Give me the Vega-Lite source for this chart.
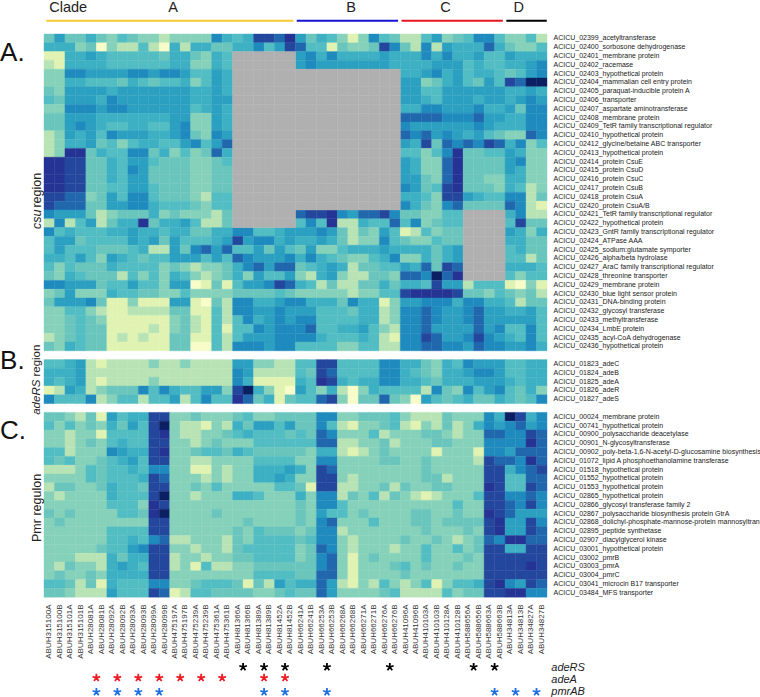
{"$schema":"https://vega.github.io/schema/vega-lite/v6.json","width":503,"height":686.4,"autosize":{"type":"none"},"padding":{"left":44,"top":7.6,"right":213,"bottom":3},"background":"white","config":{"view":{"stroke":null},"font":"Liberation Sans"},
"datasets":{"genes":[{"g":0,"name":"ACICU_02399_acetyltransferase"},{"g":1,"name":"ACICU_02400_sorbosone dehydrogenase"},{"g":2,"name":"ACICU_02401_membrane protein"},{"g":3,"name":"ACICU_02402_racemase"},{"g":4,"name":"ACICU_02403_hypothetical protein"},{"g":5,"name":"ACICU_02404_mammalian cell entry protein"},{"g":6,"name":"ACICU_02405_paraquat-inducible protein A"},{"g":7,"name":"ACICU_02406_transporter"},{"g":8,"name":"ACICU_02407_aspartate aminotransferase"},{"g":9,"name":"ACICU_02408_membrane protein"},{"g":10,"name":"ACICU_02409_TetR family transcriptional regulator"},{"g":11,"name":"ACICU_02410_hypothetical protein"},{"g":12,"name":"ACICU_02412_glycine/betaine ABC transporter"},{"g":13,"name":"ACICU_02413_hypothetical protein"},{"g":14,"name":"ACICU_02414_protein CsuE"},{"g":15,"name":"ACICU_02415_protein CsuD"},{"g":16,"name":"ACICU_02416_protein CsuC"},{"g":17,"name":"ACICU_02417_protein CsuB"},{"g":18,"name":"ACICU_02418_protein CsuA"},{"g":19,"name":"ACICU_02420_protein CsuA/B"},{"g":20,"name":"ACICU_02421_TetR family transcriptional regulator"},{"g":21,"name":"ACICU_02422_hypothetical protein"},{"g":22,"name":"ACICU_02423_GntR family transcriptional regulator"},{"g":23,"name":"ACICU_02424_ATPase AAA"},{"g":24,"name":"ACICU_02425_sodium:glutamate symporter"},{"g":25,"name":"ACICU_02426_alpha/beta hydrolase"},{"g":26,"name":"ACICU_02427_AraC family transcriptional regulator"},{"g":27,"name":"ACICU_02428_threonine transporter"},{"g":28,"name":"ACICU_02429_membrane protein"},{"g":29,"name":"ACICU_02430_blue light sensor protein"},{"g":30,"name":"ACICU_02431_DNA-binding protein"},{"g":31,"name":"ACICU_02432_glycosyl transferase"},{"g":32,"name":"ACICU_02433_methyltransferase"},{"g":33,"name":"ACICU_02434_LmbE protein"},{"g":34,"name":"ACICU_02435_acyl-CoA dehydrogenase"},{"g":35,"name":"ACICU_02436_hypothetical protein"},{"g":36,"name":"ACICU_01823_adeC"},{"g":37,"name":"ACICU_01824_adeB"},{"g":38,"name":"ACICU_01825_adeA"},{"g":39,"name":"ACICU_01826_adeR"},{"g":40,"name":"ACICU_01827_adeS"},{"g":41,"name":"ACICU_00024_membrane protein"},{"g":42,"name":"ACICU_00741_hypothetical protein"},{"g":43,"name":"ACICU_00900_polysaccharide deacetylase"},{"g":44,"name":"ACICU_00901_N-glycosyltransferase"},{"g":45,"name":"ACICU_00902_poly-beta-1,6-N-acetyl-D-glucosamine biosynthesis"},{"g":46,"name":"ACICU_01072_lipid A phosphoethanolamine transferase"},{"g":47,"name":"ACICU_01518_hypothetical protein"},{"g":48,"name":"ACICU_01552_hypothetical protein"},{"g":49,"name":"ACICU_01553_hypothetical protein"},{"g":50,"name":"ACICU_02865_hypothetical protein"},{"g":51,"name":"ACICU_02866_glycosyl transferase family 2"},{"g":52,"name":"ACICU_02867_polysaccharide biosynthesis protein GtrA"},{"g":53,"name":"ACICU_02868_dolichyl-phosphate-mannose-protein mannosyltransferase"},{"g":54,"name":"ACICU_02895_peptide synthetase"},{"g":55,"name":"ACICU_02907_diacylglycerol kinase"},{"g":56,"name":"ACICU_03001_hypothetical protein"},{"g":57,"name":"ACICU_03002_pmrB"},{"g":58,"name":"ACICU_03003_pmrA"},{"g":59,"name":"ACICU_03004_pmrC"},{"g":60,"name":"ACICU_03041_microcin B17 transporter"},{"g":61,"name":"ACICU_03484_MFS transporter"}],
"samples":[{"s":0,"sample":"ABUH315100A"},{"s":1,"sample":"ABUH315100B"},{"s":2,"sample":"ABUH315101A"},{"s":3,"sample":"ABUH315101B"},{"s":4,"sample":"ABUH28081A"},{"s":5,"sample":"ABUH28081B"},{"s":6,"sample":"ABUH28092A"},{"s":7,"sample":"ABUH28092B"},{"s":8,"sample":"ABUH28093A"},{"s":9,"sample":"ABUH28093B"},{"s":10,"sample":"ABUH28099A"},{"s":11,"sample":"ABUH28099B"},{"s":12,"sample":"ABUH475197A"},{"s":13,"sample":"ABUH475197B"},{"s":14,"sample":"ABUH475239A"},{"s":15,"sample":"ABUH475239B"},{"s":16,"sample":"ABUH475361A"},{"s":17,"sample":"ABUH475361B"},{"s":18,"sample":"ABUH81366A"},{"s":19,"sample":"ABUH81366B"},{"s":20,"sample":"ABUH81389A"},{"s":21,"sample":"ABUH81389B"},{"s":22,"sample":"ABUH81452A"},{"s":23,"sample":"ABUH81452B"},{"s":24,"sample":"ABUH66241A"},{"s":25,"sample":"ABUH66241B"},{"s":26,"sample":"ABUH66253A"},{"s":27,"sample":"ABUH66253B"},{"s":28,"sample":"ABUH66268A"},{"s":29,"sample":"ABUH66268B"},{"s":30,"sample":"ABUH66271A"},{"s":31,"sample":"ABUH66271B"},{"s":32,"sample":"ABUH66276A"},{"s":33,"sample":"ABUH66276B"},{"s":34,"sample":"ABUH41096A"},{"s":35,"sample":"ABUH41096B"},{"s":36,"sample":"ABUH410103A"},{"s":37,"sample":"ABUH410103B"},{"s":38,"sample":"ABUH410128A"},{"s":39,"sample":"ABUH410128B"},{"s":40,"sample":"ABUH588656A"},{"s":41,"sample":"ABUH588656B"},{"s":42,"sample":"ABUH588663A"},{"s":43,"sample":"ABUH588663B"},{"s":44,"sample":"ABUH34813A"},{"s":45,"sample":"ABUH34813B"},{"s":46,"sample":"ABUH34827A"},{"s":47,"sample":"ABUH34827B"}],
"missing":[{"g":2,"s":18},{"g":2,"s":19},{"g":2,"s":20},{"g":2,"s":21},{"g":2,"s":22},{"g":2,"s":23},{"g":3,"s":18},{"g":3,"s":19},{"g":3,"s":20},{"g":3,"s":21},{"g":3,"s":22},{"g":3,"s":23},{"g":20,"s":18},{"g":20,"s":19},{"g":20,"s":20},{"g":20,"s":21},{"g":20,"s":22},{"g":20,"s":23},{"g":21,"s":18},{"g":21,"s":19},{"g":21,"s":20},{"g":21,"s":21},{"g":21,"s":22},{"g":21,"s":23},
{"g":4,"s":18},{"g":4,"s":19},{"g":4,"s":20},{"g":4,"s":21},{"g":4,"s":22},{"g":4,"s":23},{"g":4,"s":24},{"g":4,"s":25},{"g":4,"s":26},{"g":4,"s":27},{"g":4,"s":28},{"g":4,"s":29},{"g":4,"s":30},{"g":4,"s":31},{"g":4,"s":32},{"g":4,"s":33},
{"g":5,"s":18},{"g":5,"s":19},{"g":5,"s":20},{"g":5,"s":21},{"g":5,"s":22},{"g":5,"s":23},{"g":5,"s":24},{"g":5,"s":25},{"g":5,"s":26},{"g":5,"s":27},{"g":5,"s":28},{"g":5,"s":29},{"g":5,"s":30},{"g":5,"s":31},{"g":5,"s":32},{"g":5,"s":33},
{"g":6,"s":18},{"g":6,"s":19},{"g":6,"s":20},{"g":6,"s":21},{"g":6,"s":22},{"g":6,"s":23},{"g":6,"s":24},{"g":6,"s":25},{"g":6,"s":26},{"g":6,"s":27},{"g":6,"s":28},{"g":6,"s":29},{"g":6,"s":30},{"g":6,"s":31},{"g":6,"s":32},{"g":6,"s":33},
{"g":7,"s":18},{"g":7,"s":19},{"g":7,"s":20},{"g":7,"s":21},{"g":7,"s":22},{"g":7,"s":23},{"g":7,"s":24},{"g":7,"s":25},{"g":7,"s":26},{"g":7,"s":27},{"g":7,"s":28},{"g":7,"s":29},{"g":7,"s":30},{"g":7,"s":31},{"g":7,"s":32},{"g":7,"s":33},
{"g":8,"s":18},{"g":8,"s":19},{"g":8,"s":20},{"g":8,"s":21},{"g":8,"s":22},{"g":8,"s":23},{"g":8,"s":24},{"g":8,"s":25},{"g":8,"s":26},{"g":8,"s":27},{"g":8,"s":28},{"g":8,"s":29},{"g":8,"s":30},{"g":8,"s":31},{"g":8,"s":32},{"g":8,"s":33},
{"g":9,"s":18},{"g":9,"s":19},{"g":9,"s":20},{"g":9,"s":21},{"g":9,"s":22},{"g":9,"s":23},{"g":9,"s":24},{"g":9,"s":25},{"g":9,"s":26},{"g":9,"s":27},{"g":9,"s":28},{"g":9,"s":29},{"g":9,"s":30},{"g":9,"s":31},{"g":9,"s":32},{"g":9,"s":33},
{"g":10,"s":18},{"g":10,"s":19},{"g":10,"s":20},{"g":10,"s":21},{"g":10,"s":22},{"g":10,"s":23},{"g":10,"s":24},{"g":10,"s":25},{"g":10,"s":26},{"g":10,"s":27},{"g":10,"s":28},{"g":10,"s":29},{"g":10,"s":30},{"g":10,"s":31},{"g":10,"s":32},{"g":10,"s":33},
{"g":11,"s":18},{"g":11,"s":19},{"g":11,"s":20},{"g":11,"s":21},{"g":11,"s":22},{"g":11,"s":23},{"g":11,"s":24},{"g":11,"s":25},{"g":11,"s":26},{"g":11,"s":27},{"g":11,"s":28},{"g":11,"s":29},{"g":11,"s":30},{"g":11,"s":31},{"g":11,"s":32},{"g":11,"s":33},
{"g":12,"s":18},{"g":12,"s":19},{"g":12,"s":20},{"g":12,"s":21},{"g":12,"s":22},{"g":12,"s":23},{"g":12,"s":24},{"g":12,"s":25},{"g":12,"s":26},{"g":12,"s":27},{"g":12,"s":28},{"g":12,"s":29},{"g":12,"s":30},{"g":12,"s":31},{"g":12,"s":32},{"g":12,"s":33},
{"g":13,"s":18},{"g":13,"s":19},{"g":13,"s":20},{"g":13,"s":21},{"g":13,"s":22},{"g":13,"s":23},{"g":13,"s":24},{"g":13,"s":25},{"g":13,"s":26},{"g":13,"s":27},{"g":13,"s":28},{"g":13,"s":29},{"g":13,"s":30},{"g":13,"s":31},{"g":13,"s":32},{"g":13,"s":33},
{"g":14,"s":18},{"g":14,"s":19},{"g":14,"s":20},{"g":14,"s":21},{"g":14,"s":22},{"g":14,"s":23},{"g":14,"s":24},{"g":14,"s":25},{"g":14,"s":26},{"g":14,"s":27},{"g":14,"s":28},{"g":14,"s":29},{"g":14,"s":30},{"g":14,"s":31},{"g":14,"s":32},{"g":14,"s":33},
{"g":15,"s":18},{"g":15,"s":19},{"g":15,"s":20},{"g":15,"s":21},{"g":15,"s":22},{"g":15,"s":23},{"g":15,"s":24},{"g":15,"s":25},{"g":15,"s":26},{"g":15,"s":27},{"g":15,"s":28},{"g":15,"s":29},{"g":15,"s":30},{"g":15,"s":31},{"g":15,"s":32},{"g":15,"s":33},
{"g":16,"s":18},{"g":16,"s":19},{"g":16,"s":20},{"g":16,"s":21},{"g":16,"s":22},{"g":16,"s":23},{"g":16,"s":24},{"g":16,"s":25},{"g":16,"s":26},{"g":16,"s":27},{"g":16,"s":28},{"g":16,"s":29},{"g":16,"s":30},{"g":16,"s":31},{"g":16,"s":32},{"g":16,"s":33},
{"g":17,"s":18},{"g":17,"s":19},{"g":17,"s":20},{"g":17,"s":21},{"g":17,"s":22},{"g":17,"s":23},{"g":17,"s":24},{"g":17,"s":25},{"g":17,"s":26},{"g":17,"s":27},{"g":17,"s":28},{"g":17,"s":29},{"g":17,"s":30},{"g":17,"s":31},{"g":17,"s":32},{"g":17,"s":33},
{"g":18,"s":18},{"g":18,"s":19},{"g":18,"s":20},{"g":18,"s":21},{"g":18,"s":22},{"g":18,"s":23},{"g":18,"s":24},{"g":18,"s":25},{"g":18,"s":26},{"g":18,"s":27},{"g":18,"s":28},{"g":18,"s":29},{"g":18,"s":30},{"g":18,"s":31},{"g":18,"s":32},{"g":18,"s":33},
{"g":19,"s":18},{"g":19,"s":19},{"g":19,"s":20},{"g":19,"s":21},{"g":19,"s":22},{"g":19,"s":23},{"g":19,"s":24},{"g":19,"s":25},{"g":19,"s":26},{"g":19,"s":27},{"g":19,"s":28},{"g":19,"s":29},{"g":19,"s":30},{"g":19,"s":31},{"g":19,"s":32},{"g":19,"s":33},
{"g":20,"s":40},{"g":20,"s":41},{"g":20,"s":42},{"g":20,"s":43},{"g":21,"s":40},{"g":21,"s":41},{"g":21,"s":42},{"g":21,"s":43},{"g":22,"s":40},{"g":22,"s":41},{"g":22,"s":42},{"g":22,"s":43},{"g":23,"s":40},{"g":23,"s":41},{"g":23,"s":42},{"g":23,"s":43},{"g":24,"s":40},{"g":24,"s":41},{"g":24,"s":42},{"g":24,"s":43},{"g":25,"s":40},{"g":25,"s":41},{"g":25,"s":42},{"g":25,"s":43},{"g":26,"s":40},{"g":26,"s":41},{"g":26,"s":42},{"g":26,"s":43},{"g":27,"s":40},{"g":27,"s":41},{"g":27,"s":42},{"g":27,"s":43}],
"cells":[
{"g":0,"s":0,"v":4},{"g":0,"s":1,"v":7},{"g":0,"s":2,"v":4},{"g":0,"s":3,"v":4},{"g":0,"s":4,"v":6},{"g":0,"s":5,"v":4},{"g":0,"s":6,"v":3},{"g":0,"s":7,"v":5},{"g":0,"s":8,"v":4},{"g":0,"s":9,"v":3},{"g":0,"s":10,"v":3},{"g":0,"s":11,"v":2},{"g":0,"s":12,"v":3},{"g":0,"s":13,"v":3},{"g":0,"s":14,"v":3},{"g":0,"s":15,"v":3},{"g":0,"s":16,"v":8},{"g":0,"s":17,"v":6},{"g":0,"s":18,"v":5},{"g":0,"s":19,"v":6},{"g":0,"s":20,"v":10},{"g":0,"s":21,"v":10},{"g":0,"s":22,"v":9},{"g":0,"s":23,"v":11},{"g":0,"s":24,"v":7},{"g":0,"s":25,"v":4},{"g":0,"s":26,"v":6},{"g":0,"s":27,"v":5},{"g":0,"s":28,"v":3},{"g":0,"s":29,"v":1},{"g":0,"s":30,"v":3},{"g":0,"s":31,"v":8},{"g":0,"s":32,"v":5},{"g":0,"s":33,"v":4},{"g":0,"s":34,"v":2},{"g":0,"s":35,"v":2},{"g":0,"s":36,"v":5},{"g":0,"s":37,"v":7},{"g":0,"s":38,"v":3},{"g":0,"s":39,"v":4},{"g":0,"s":40,"v":5},{"g":0,"s":41,"v":8},{"g":0,"s":42,"v":8},{"g":0,"s":43,"v":5},{"g":0,"s":44,"v":3},{"g":0,"s":45,"v":3},{"g":0,"s":46,"v":5},{"g":0,"s":47,"v":2},
{"g":1,"s":0,"v":6},{"g":1,"s":1,"v":6},{"g":1,"s":2,"v":6},{"g":1,"s":3,"v":3},{"g":1,"s":4,"v":4},{"g":1,"s":5,"v":0},{"g":1,"s":6,"v":3},{"g":1,"s":7,"v":2},{"g":1,"s":8,"v":2},{"g":1,"s":9,"v":5},{"g":1,"s":10,"v":2},{"g":1,"s":11,"v":0},{"g":1,"s":12,"v":6},{"g":1,"s":13,"v":2},{"g":1,"s":14,"v":6},{"g":1,"s":15,"v":6},{"g":1,"s":16,"v":4},{"g":1,"s":17,"v":4},{"g":1,"s":18,"v":6},{"g":1,"s":19,"v":6},{"g":1,"s":20,"v":8},{"g":1,"s":21,"v":5},{"g":1,"s":22,"v":7},{"g":1,"s":23,"v":10},{"g":1,"s":24,"v":9},{"g":1,"s":25,"v":5},{"g":1,"s":26,"v":5},{"g":1,"s":27,"v":1},{"g":1,"s":28,"v":4},{"g":1,"s":29,"v":3},{"g":1,"s":30,"v":3},{"g":1,"s":31,"v":4},{"g":1,"s":32,"v":10},{"g":1,"s":33,"v":8},{"g":1,"s":34,"v":4},{"g":1,"s":35,"v":2},{"g":1,"s":36,"v":8},{"g":1,"s":37,"v":2},{"g":1,"s":38,"v":7},{"g":1,"s":39,"v":6},{"g":1,"s":40,"v":6},{"g":1,"s":41,"v":6},{"g":1,"s":42,"v":9},{"g":1,"s":43,"v":6},{"g":1,"s":44,"v":4},{"g":1,"s":45,"v":3},{"g":1,"s":46,"v":3},{"g":1,"s":47,"v":5},
{"g":2,"s":0,"v":1},{"g":2,"s":1,"v":1},{"g":2,"s":2,"v":6},{"g":2,"s":3,"v":6},{"g":2,"s":4,"v":7},{"g":2,"s":5,"v":6},{"g":2,"s":6,"v":5},{"g":2,"s":7,"v":5},{"g":2,"s":8,"v":5},{"g":2,"s":9,"v":5},{"g":2,"s":10,"v":5},{"g":2,"s":11,"v":4},{"g":2,"s":12,"v":6},{"g":2,"s":13,"v":6},{"g":2,"s":14,"v":4},{"g":2,"s":15,"v":3},{"g":2,"s":16,"v":6},{"g":2,"s":17,"v":5},{"g":2,"s":24,"v":7},{"g":2,"s":25,"v":8},{"g":2,"s":26,"v":6},{"g":2,"s":27,"v":8},{"g":2,"s":28,"v":6},{"g":2,"s":29,"v":6},{"g":2,"s":30,"v":6},{"g":2,"s":31,"v":6},{"g":2,"s":32,"v":7},{"g":2,"s":33,"v":6},{"g":2,"s":34,"v":6},{"g":2,"s":35,"v":6},{"g":2,"s":36,"v":8},{"g":2,"s":37,"v":6},{"g":2,"s":38,"v":8},{"g":2,"s":39,"v":6},{"g":2,"s":40,"v":6},{"g":2,"s":41,"v":7},{"g":2,"s":42,"v":5},{"g":2,"s":43,"v":5},{"g":2,"s":44,"v":7},{"g":2,"s":45,"v":6},{"g":2,"s":46,"v":6},{"g":2,"s":47,"v":6},
{"g":3,"s":0,"v":2},{"g":3,"s":1,"v":1},{"g":3,"s":2,"v":6},{"g":3,"s":3,"v":6},{"g":3,"s":4,"v":6},{"g":3,"s":5,"v":6},{"g":3,"s":6,"v":5},{"g":3,"s":7,"v":5},{"g":3,"s":8,"v":5},{"g":3,"s":9,"v":5},{"g":3,"s":10,"v":5},{"g":3,"s":11,"v":5},{"g":3,"s":12,"v":6},{"g":3,"s":13,"v":6},{"g":3,"s":14,"v":3},{"g":3,"s":15,"v":3},{"g":3,"s":16,"v":6},{"g":3,"s":17,"v":5},{"g":3,"s":24,"v":7},{"g":3,"s":25,"v":8},{"g":3,"s":26,"v":7},{"g":3,"s":27,"v":7},{"g":3,"s":28,"v":7},{"g":3,"s":29,"v":7},{"g":3,"s":30,"v":7},{"g":3,"s":31,"v":7},{"g":3,"s":32,"v":7},{"g":3,"s":33,"v":6},{"g":3,"s":34,"v":6},{"g":3,"s":35,"v":6},{"g":3,"s":36,"v":6},{"g":3,"s":37,"v":7},{"g":3,"s":38,"v":7},{"g":3,"s":39,"v":7},{"g":3,"s":40,"v":5},{"g":3,"s":41,"v":6},{"g":3,"s":42,"v":5},{"g":3,"s":43,"v":5},{"g":3,"s":44,"v":6},{"g":3,"s":45,"v":6},{"g":3,"s":46,"v":7},{"g":3,"s":47,"v":8},
{"g":4,"s":0,"v":3},{"g":4,"s":1,"v":3},{"g":4,"s":2,"v":8},{"g":4,"s":3,"v":8},{"g":4,"s":4,"v":7},{"g":4,"s":5,"v":7},{"g":4,"s":6,"v":7},{"g":4,"s":7,"v":7},{"g":4,"s":8,"v":8},{"g":4,"s":9,"v":8},{"g":4,"s":10,"v":7},{"g":4,"s":11,"v":8},{"g":4,"s":12,"v":8},{"g":4,"s":13,"v":7},{"g":4,"s":14,"v":5},{"g":4,"s":15,"v":5},{"g":4,"s":16,"v":7},{"g":4,"s":17,"v":6},{"g":4,"s":34,"v":6},{"g":4,"s":35,"v":6},{"g":4,"s":36,"v":7},{"g":4,"s":37,"v":8},{"g":4,"s":38,"v":6},{"g":4,"s":39,"v":7},{"g":4,"s":40,"v":5},{"g":4,"s":41,"v":6},{"g":4,"s":42,"v":6},{"g":4,"s":43,"v":5},{"g":4,"s":44,"v":4},{"g":4,"s":45,"v":5},{"g":4,"s":46,"v":7},{"g":4,"s":47,"v":8},
{"g":5,"s":0,"v":3},{"g":5,"s":1,"v":3},{"g":5,"s":2,"v":6},{"g":5,"s":3,"v":6},{"g":5,"s":4,"v":5},{"g":5,"s":5,"v":5},{"g":5,"s":6,"v":5},{"g":5,"s":7,"v":4},{"g":5,"s":8,"v":6},{"g":5,"s":9,"v":5},{"g":5,"s":10,"v":4},{"g":5,"s":11,"v":5},{"g":5,"s":12,"v":5},{"g":5,"s":13,"v":6},{"g":5,"s":14,"v":3},{"g":5,"s":15,"v":5},{"g":5,"s":16,"v":7},{"g":5,"s":17,"v":6},{"g":5,"s":34,"v":7},{"g":5,"s":35,"v":7},{"g":5,"s":36,"v":3},{"g":5,"s":37,"v":4},{"g":5,"s":38,"v":6},{"g":5,"s":39,"v":7},{"g":5,"s":40,"v":5},{"g":5,"s":41,"v":4},{"g":5,"s":42,"v":7},{"g":5,"s":43,"v":5},{"g":5,"s":44,"v":10},{"g":5,"s":45,"v":9},{"g":5,"s":46,"v":12},{"g":5,"s":47,"v":12},
{"g":6,"s":0,"v":4},{"g":6,"s":1,"v":3},{"g":6,"s":2,"v":7},{"g":6,"s":3,"v":7},{"g":6,"s":4,"v":7},{"g":6,"s":5,"v":7},{"g":6,"s":6,"v":6},{"g":6,"s":7,"v":7},{"g":6,"s":8,"v":7},{"g":6,"s":9,"v":7},{"g":6,"s":10,"v":7},{"g":6,"s":11,"v":7},{"g":6,"s":12,"v":7},{"g":6,"s":13,"v":7},{"g":6,"s":14,"v":6},{"g":6,"s":15,"v":6},{"g":6,"s":16,"v":7},{"g":6,"s":17,"v":6},{"g":6,"s":34,"v":7},{"g":6,"s":35,"v":7},{"g":6,"s":36,"v":5},{"g":6,"s":37,"v":5},{"g":6,"s":38,"v":7},{"g":6,"s":39,"v":7},{"g":6,"s":40,"v":7},{"g":6,"s":41,"v":7},{"g":6,"s":42,"v":7},{"g":6,"s":43,"v":7},{"g":6,"s":44,"v":6},{"g":6,"s":45,"v":6},{"g":6,"s":46,"v":7},{"g":6,"s":47,"v":6},
{"g":7,"s":0,"v":5},{"g":7,"s":1,"v":4},{"g":7,"s":2,"v":7},{"g":7,"s":3,"v":7},{"g":7,"s":4,"v":7},{"g":7,"s":5,"v":6},{"g":7,"s":6,"v":8},{"g":7,"s":7,"v":7},{"g":7,"s":8,"v":7},{"g":7,"s":9,"v":7},{"g":7,"s":10,"v":7},{"g":7,"s":11,"v":7},{"g":7,"s":12,"v":7},{"g":7,"s":13,"v":7},{"g":7,"s":14,"v":6},{"g":7,"s":15,"v":6},{"g":7,"s":16,"v":7},{"g":7,"s":17,"v":7},{"g":7,"s":34,"v":7},{"g":7,"s":35,"v":7},{"g":7,"s":36,"v":6},{"g":7,"s":37,"v":5},{"g":7,"s":38,"v":7},{"g":7,"s":39,"v":7},{"g":7,"s":40,"v":7},{"g":7,"s":41,"v":6},{"g":7,"s":42,"v":7},{"g":7,"s":43,"v":7},{"g":7,"s":44,"v":6},{"g":7,"s":45,"v":7},{"g":7,"s":46,"v":8},{"g":7,"s":47,"v":7},
{"g":8,"s":0,"v":3},{"g":8,"s":1,"v":3},{"g":8,"s":2,"v":8},{"g":8,"s":3,"v":8},{"g":8,"s":4,"v":8},{"g":8,"s":5,"v":7},{"g":8,"s":6,"v":8},{"g":8,"s":7,"v":8},{"g":8,"s":8,"v":7},{"g":8,"s":9,"v":7},{"g":8,"s":10,"v":7},{"g":8,"s":11,"v":7},{"g":8,"s":12,"v":7},{"g":8,"s":13,"v":7},{"g":8,"s":14,"v":5},{"g":8,"s":15,"v":6},{"g":8,"s":16,"v":7},{"g":8,"s":17,"v":6},{"g":8,"s":34,"v":6},{"g":8,"s":35,"v":6},{"g":8,"s":36,"v":8},{"g":8,"s":37,"v":8},{"g":8,"s":38,"v":7},{"g":8,"s":39,"v":7},{"g":8,"s":40,"v":7},{"g":8,"s":41,"v":8},{"g":8,"s":42,"v":6},{"g":8,"s":43,"v":6},{"g":8,"s":44,"v":7},{"g":8,"s":45,"v":4},{"g":8,"s":46,"v":8},{"g":8,"s":47,"v":8},
{"g":9,"s":0,"v":4},{"g":9,"s":1,"v":4},{"g":9,"s":2,"v":7},{"g":9,"s":3,"v":7},{"g":9,"s":4,"v":7},{"g":9,"s":5,"v":6},{"g":9,"s":6,"v":6},{"g":9,"s":7,"v":6},{"g":9,"s":8,"v":6},{"g":9,"s":9,"v":6},{"g":9,"s":10,"v":6},{"g":9,"s":11,"v":6},{"g":9,"s":12,"v":7},{"g":9,"s":13,"v":7},{"g":9,"s":14,"v":3},{"g":9,"s":15,"v":3},{"g":9,"s":16,"v":7},{"g":9,"s":17,"v":6},{"g":9,"s":34,"v":9},{"g":9,"s":35,"v":9},{"g":9,"s":36,"v":9},{"g":9,"s":37,"v":9},{"g":9,"s":38,"v":8},{"g":9,"s":39,"v":8},{"g":9,"s":40,"v":8},{"g":9,"s":41,"v":9},{"g":9,"s":42,"v":7},{"g":9,"s":43,"v":7},{"g":9,"s":44,"v":6},{"g":9,"s":45,"v":6},{"g":9,"s":46,"v":8},{"g":9,"s":47,"v":8},
{"g":10,"s":0,"v":4},{"g":10,"s":1,"v":4},{"g":10,"s":2,"v":7},{"g":10,"s":3,"v":8},{"g":10,"s":4,"v":7},{"g":10,"s":5,"v":6},{"g":10,"s":6,"v":5},{"g":10,"s":7,"v":5},{"g":10,"s":8,"v":6},{"g":10,"s":9,"v":6},{"g":10,"s":10,"v":5},{"g":10,"s":11,"v":5},{"g":10,"s":12,"v":7},{"g":10,"s":13,"v":8},{"g":10,"s":14,"v":3},{"g":10,"s":15,"v":3},{"g":10,"s":16,"v":7},{"g":10,"s":17,"v":6},{"g":10,"s":34,"v":8},{"g":10,"s":35,"v":7},{"g":10,"s":36,"v":7},{"g":10,"s":37,"v":7},{"g":10,"s":38,"v":7},{"g":10,"s":39,"v":7},{"g":10,"s":40,"v":7},{"g":10,"s":41,"v":8},{"g":10,"s":42,"v":7},{"g":10,"s":43,"v":6},{"g":10,"s":44,"v":6},{"g":10,"s":45,"v":6},{"g":10,"s":46,"v":8},{"g":10,"s":47,"v":8},
{"g":11,"s":0,"v":2},{"g":11,"s":1,"v":3},{"g":11,"s":2,"v":7},{"g":11,"s":3,"v":6},{"g":11,"s":4,"v":7},{"g":11,"s":5,"v":5},{"g":11,"s":6,"v":8},{"g":11,"s":7,"v":7},{"g":11,"s":8,"v":7},{"g":11,"s":9,"v":7},{"g":11,"s":10,"v":6},{"g":11,"s":11,"v":6},{"g":11,"s":12,"v":7},{"g":11,"s":13,"v":8},{"g":11,"s":14,"v":4},{"g":11,"s":15,"v":3},{"g":11,"s":16,"v":8},{"g":11,"s":17,"v":7},{"g":11,"s":34,"v":9},{"g":11,"s":35,"v":8},{"g":11,"s":36,"v":9},{"g":11,"s":37,"v":7},{"g":11,"s":38,"v":8},{"g":11,"s":39,"v":7},{"g":11,"s":40,"v":6},{"g":11,"s":41,"v":7},{"g":11,"s":42,"v":5},{"g":11,"s":43,"v":4},{"g":11,"s":44,"v":3},{"g":11,"s":45,"v":3},{"g":11,"s":46,"v":9},{"g":11,"s":47,"v":8},
{"g":12,"s":0,"v":2},{"g":12,"s":1,"v":3},{"g":12,"s":2,"v":6},{"g":12,"s":3,"v":6},{"g":12,"s":4,"v":7},{"g":12,"s":5,"v":4},{"g":12,"s":6,"v":5},{"g":12,"s":7,"v":3},{"g":12,"s":8,"v":5},{"g":12,"s":9,"v":6},{"g":12,"s":10,"v":6},{"g":12,"s":11,"v":5},{"g":12,"s":12,"v":5},{"g":12,"s":13,"v":7},{"g":12,"s":14,"v":8},{"g":12,"s":15,"v":5},{"g":12,"s":16,"v":7},{"g":12,"s":17,"v":9},{"g":12,"s":34,"v":7},{"g":12,"s":35,"v":6},{"g":12,"s":36,"v":10},{"g":12,"s":37,"v":4},{"g":12,"s":38,"v":9},{"g":12,"s":39,"v":8},{"g":12,"s":40,"v":9},{"g":12,"s":41,"v":8},{"g":12,"s":42,"v":10},{"g":12,"s":43,"v":9},{"g":12,"s":44,"v":6},{"g":12,"s":45,"v":8},{"g":12,"s":46,"v":3},{"g":12,"s":47,"v":5},
{"g":13,"s":0,"v":2},{"g":13,"s":1,"v":3},{"g":13,"s":2,"v":11},{"g":13,"s":3,"v":11},{"g":13,"s":4,"v":4},{"g":13,"s":5,"v":6},{"g":13,"s":6,"v":5},{"g":13,"s":7,"v":5},{"g":13,"s":8,"v":8},{"g":13,"s":9,"v":8},{"g":13,"s":10,"v":4},{"g":13,"s":11,"v":6},{"g":13,"s":12,"v":3},{"g":13,"s":13,"v":5},{"g":13,"s":14,"v":3},{"g":13,"s":15,"v":4},{"g":13,"s":16,"v":9},{"g":13,"s":17,"v":6},{"g":13,"s":34,"v":5},{"g":13,"s":35,"v":5},{"g":13,"s":36,"v":3},{"g":13,"s":37,"v":5},{"g":13,"s":38,"v":8},{"g":13,"s":39,"v":11},{"g":13,"s":40,"v":4},{"g":13,"s":41,"v":4},{"g":13,"s":42,"v":5},{"g":13,"s":43,"v":5},{"g":13,"s":44,"v":7},{"g":13,"s":45,"v":6},{"g":13,"s":46,"v":3},{"g":13,"s":47,"v":3},
{"g":14,"s":0,"v":11},{"g":14,"s":1,"v":11},{"g":14,"s":2,"v":10},{"g":14,"s":3,"v":10},{"g":14,"s":4,"v":4},{"g":14,"s":5,"v":4},{"g":14,"s":6,"v":6},{"g":14,"s":7,"v":5},{"g":14,"s":8,"v":7},{"g":14,"s":9,"v":7},{"g":14,"s":10,"v":5},{"g":14,"s":11,"v":4},{"g":14,"s":12,"v":4},{"g":14,"s":13,"v":4},{"g":14,"s":14,"v":3},{"g":14,"s":15,"v":3},{"g":14,"s":16,"v":4},{"g":14,"s":17,"v":5},{"g":14,"s":34,"v":7},{"g":14,"s":35,"v":6},{"g":14,"s":36,"v":3},{"g":14,"s":37,"v":3},{"g":14,"s":38,"v":9},{"g":14,"s":39,"v":11},{"g":14,"s":40,"v":4},{"g":14,"s":41,"v":4},{"g":14,"s":42,"v":4},{"g":14,"s":43,"v":4},{"g":14,"s":44,"v":7},{"g":14,"s":45,"v":8},{"g":14,"s":46,"v":3},{"g":14,"s":47,"v":3},
{"g":15,"s":0,"v":11},{"g":15,"s":1,"v":11},{"g":15,"s":2,"v":10},{"g":15,"s":3,"v":10},{"g":15,"s":4,"v":4},{"g":15,"s":5,"v":4},{"g":15,"s":6,"v":6},{"g":15,"s":7,"v":5},{"g":15,"s":8,"v":8},{"g":15,"s":9,"v":7},{"g":15,"s":10,"v":4},{"g":15,"s":11,"v":4},{"g":15,"s":12,"v":4},{"g":15,"s":13,"v":4},{"g":15,"s":14,"v":3},{"g":15,"s":15,"v":3},{"g":15,"s":16,"v":4},{"g":15,"s":17,"v":4},{"g":15,"s":34,"v":7},{"g":15,"s":35,"v":6},{"g":15,"s":36,"v":3},{"g":15,"s":37,"v":3},{"g":15,"s":38,"v":9},{"g":15,"s":39,"v":11},{"g":15,"s":40,"v":4},{"g":15,"s":41,"v":4},{"g":15,"s":42,"v":4},{"g":15,"s":43,"v":4},{"g":15,"s":44,"v":7},{"g":15,"s":45,"v":6},{"g":15,"s":46,"v":3},{"g":15,"s":47,"v":3},
{"g":16,"s":0,"v":11},{"g":16,"s":1,"v":11},{"g":16,"s":2,"v":10},{"g":16,"s":3,"v":10},{"g":16,"s":4,"v":4},{"g":16,"s":5,"v":4},{"g":16,"s":6,"v":6},{"g":16,"s":7,"v":5},{"g":16,"s":8,"v":7},{"g":16,"s":9,"v":7},{"g":16,"s":10,"v":4},{"g":16,"s":11,"v":4},{"g":16,"s":12,"v":4},{"g":16,"s":13,"v":4},{"g":16,"s":14,"v":3},{"g":16,"s":15,"v":3},{"g":16,"s":16,"v":4},{"g":16,"s":17,"v":4},{"g":16,"s":34,"v":7},{"g":16,"s":35,"v":7},{"g":16,"s":36,"v":4},{"g":16,"s":37,"v":3},{"g":16,"s":38,"v":9},{"g":16,"s":39,"v":11},{"g":16,"s":40,"v":4},{"g":16,"s":41,"v":4},{"g":16,"s":42,"v":3},{"g":16,"s":43,"v":3},{"g":16,"s":44,"v":6},{"g":16,"s":45,"v":6},{"g":16,"s":46,"v":3},{"g":16,"s":47,"v":3},
{"g":17,"s":0,"v":11},{"g":17,"s":1,"v":11},{"g":17,"s":2,"v":10},{"g":17,"s":3,"v":10},{"g":17,"s":4,"v":4},{"g":17,"s":5,"v":4},{"g":17,"s":6,"v":5},{"g":17,"s":7,"v":5},{"g":17,"s":8,"v":7},{"g":17,"s":9,"v":7},{"g":17,"s":10,"v":5},{"g":17,"s":11,"v":4},{"g":17,"s":12,"v":4},{"g":17,"s":13,"v":4},{"g":17,"s":14,"v":3},{"g":17,"s":15,"v":3},{"g":17,"s":16,"v":4},{"g":17,"s":17,"v":4},{"g":17,"s":34,"v":8},{"g":17,"s":35,"v":7},{"g":17,"s":36,"v":4},{"g":17,"s":37,"v":5},{"g":17,"s":38,"v":10},{"g":17,"s":39,"v":11},{"g":17,"s":40,"v":4},{"g":17,"s":41,"v":4},{"g":17,"s":42,"v":4},{"g":17,"s":43,"v":3},{"g":17,"s":44,"v":6},{"g":17,"s":45,"v":5},{"g":17,"s":46,"v":2},{"g":17,"s":47,"v":3},
{"g":18,"s":0,"v":10},{"g":18,"s":1,"v":10},{"g":18,"s":2,"v":9},{"g":18,"s":3,"v":9},{"g":18,"s":4,"v":3},{"g":18,"s":5,"v":4},{"g":18,"s":6,"v":7},{"g":18,"s":7,"v":5},{"g":18,"s":8,"v":8},{"g":18,"s":9,"v":8},{"g":18,"s":10,"v":5},{"g":18,"s":11,"v":4},{"g":18,"s":12,"v":4},{"g":18,"s":13,"v":4},{"g":18,"s":14,"v":3},{"g":18,"s":15,"v":2},{"g":18,"s":16,"v":5},{"g":18,"s":17,"v":5},{"g":18,"s":34,"v":6},{"g":18,"s":35,"v":6},{"g":18,"s":36,"v":5},{"g":18,"s":37,"v":3},{"g":18,"s":38,"v":10},{"g":18,"s":39,"v":10},{"g":18,"s":40,"v":7},{"g":18,"s":41,"v":6},{"g":18,"s":42,"v":5},{"g":18,"s":43,"v":5},{"g":18,"s":44,"v":8},{"g":18,"s":45,"v":8},{"g":18,"s":46,"v":2},{"g":18,"s":47,"v":4},
{"g":19,"s":0,"v":10},{"g":19,"s":1,"v":9},{"g":19,"s":2,"v":9},{"g":19,"s":3,"v":9},{"g":19,"s":4,"v":4},{"g":19,"s":5,"v":4},{"g":19,"s":6,"v":7},{"g":19,"s":7,"v":7},{"g":19,"s":8,"v":8},{"g":19,"s":9,"v":8},{"g":19,"s":10,"v":6},{"g":19,"s":11,"v":5},{"g":19,"s":12,"v":5},{"g":19,"s":13,"v":5},{"g":19,"s":14,"v":4},{"g":19,"s":15,"v":3},{"g":19,"s":16,"v":5},{"g":19,"s":17,"v":5},{"g":19,"s":34,"v":8},{"g":19,"s":35,"v":6},{"g":19,"s":36,"v":4},{"g":19,"s":37,"v":3},{"g":19,"s":38,"v":8},{"g":19,"s":39,"v":9},{"g":19,"s":40,"v":4},{"g":19,"s":41,"v":4},{"g":19,"s":42,"v":4},{"g":19,"s":43,"v":4},{"g":19,"s":44,"v":9},{"g":19,"s":45,"v":8},{"g":19,"s":46,"v":2},{"g":19,"s":47,"v":1},
{"g":20,"s":0,"v":8},{"g":20,"s":1,"v":7},{"g":20,"s":2,"v":7},{"g":20,"s":3,"v":7},{"g":20,"s":4,"v":4},{"g":20,"s":5,"v":2},{"g":20,"s":6,"v":3},{"g":20,"s":7,"v":4},{"g":20,"s":8,"v":4},{"g":20,"s":9,"v":4},{"g":20,"s":10,"v":6},{"g":20,"s":11,"v":3},{"g":20,"s":12,"v":4},{"g":20,"s":13,"v":3},{"g":20,"s":14,"v":3},{"g":20,"s":15,"v":3},{"g":20,"s":16,"v":2},{"g":20,"s":17,"v":4},{"g":20,"s":24,"v":9},{"g":20,"s":25,"v":10},{"g":20,"s":26,"v":10},{"g":20,"s":27,"v":11},{"g":20,"s":28,"v":8},{"g":20,"s":29,"v":7},{"g":20,"s":30,"v":9},{"g":20,"s":31,"v":9},{"g":20,"s":32,"v":10},{"g":20,"s":33,"v":8},{"g":20,"s":34,"v":4},{"g":20,"s":35,"v":4},{"g":20,"s":36,"v":3},{"g":20,"s":37,"v":3},{"g":20,"s":38,"v":5},{"g":20,"s":39,"v":5},{"g":20,"s":44,"v":6},{"g":20,"s":45,"v":8},{"g":20,"s":46,"v":2},{"g":20,"s":47,"v":2},
{"g":21,"s":0,"v":2},{"g":21,"s":1,"v":8},{"g":21,"s":2,"v":2},{"g":21,"s":3,"v":5},{"g":21,"s":4,"v":7},{"g":21,"s":5,"v":2},{"g":21,"s":6,"v":4},{"g":21,"s":7,"v":6},{"g":21,"s":8,"v":6},{"g":21,"s":9,"v":11},{"g":21,"s":10,"v":4},{"g":21,"s":11,"v":6},{"g":21,"s":12,"v":6},{"g":21,"s":13,"v":7},{"g":21,"s":14,"v":5},{"g":21,"s":15,"v":2},{"g":21,"s":16,"v":2},{"g":21,"s":17,"v":4},{"g":21,"s":24,"v":5},{"g":21,"s":25,"v":8},{"g":21,"s":26,"v":5},{"g":21,"s":27,"v":11},{"g":21,"s":28,"v":2},{"g":21,"s":29,"v":2},{"g":21,"s":30,"v":6},{"g":21,"s":31,"v":5},{"g":21,"s":32,"v":5},{"g":21,"s":33,"v":9},{"g":21,"s":34,"v":5},{"g":21,"s":35,"v":8},{"g":21,"s":36,"v":3},{"g":21,"s":37,"v":4},{"g":21,"s":38,"v":5},{"g":21,"s":39,"v":5},{"g":21,"s":44,"v":5},{"g":21,"s":45,"v":10},{"g":21,"s":46,"v":4},{"g":21,"s":47,"v":4},
{"g":22,"s":0,"v":8},{"g":22,"s":1,"v":5},{"g":22,"s":2,"v":6},{"g":22,"s":3,"v":5},{"g":22,"s":4,"v":5},{"g":22,"s":5,"v":5},{"g":22,"s":6,"v":6},{"g":22,"s":7,"v":6},{"g":22,"s":8,"v":7},{"g":22,"s":9,"v":6},{"g":22,"s":10,"v":6},{"g":22,"s":11,"v":5},{"g":22,"s":12,"v":6},{"g":22,"s":13,"v":6},{"g":22,"s":14,"v":4},{"g":22,"s":15,"v":4},{"g":22,"s":16,"v":6},{"g":22,"s":17,"v":6},{"g":22,"s":18,"v":8},{"g":22,"s":19,"v":8},{"g":22,"s":20,"v":5},{"g":22,"s":21,"v":5},{"g":22,"s":22,"v":6},{"g":22,"s":23,"v":7},{"g":22,"s":24,"v":7},{"g":22,"s":25,"v":7},{"g":22,"s":26,"v":8},{"g":22,"s":27,"v":7},{"g":22,"s":28,"v":4},{"g":22,"s":29,"v":2},{"g":22,"s":30,"v":4},{"g":22,"s":31,"v":3},{"g":22,"s":32,"v":7},{"g":22,"s":33,"v":5},{"g":22,"s":34,"v":1},{"g":22,"s":35,"v":2},{"g":22,"s":36,"v":5},{"g":22,"s":37,"v":3},{"g":22,"s":38,"v":4},{"g":22,"s":39,"v":4},{"g":22,"s":44,"v":7},{"g":22,"s":45,"v":6},{"g":22,"s":46,"v":3},{"g":22,"s":47,"v":6},
{"g":23,"s":0,"v":5},{"g":23,"s":1,"v":7},{"g":23,"s":2,"v":7},{"g":23,"s":3,"v":4},{"g":23,"s":4,"v":5},{"g":23,"s":5,"v":5},{"g":23,"s":6,"v":5},{"g":23,"s":7,"v":5},{"g":23,"s":8,"v":7},{"g":23,"s":9,"v":6},{"g":23,"s":10,"v":7},{"g":23,"s":11,"v":4},{"g":23,"s":12,"v":7},{"g":23,"s":13,"v":5},{"g":23,"s":14,"v":5},{"g":23,"s":15,"v":5},{"g":23,"s":16,"v":6},{"g":23,"s":17,"v":7},{"g":23,"s":18,"v":10},{"g":23,"s":19,"v":7},{"g":23,"s":20,"v":8},{"g":23,"s":21,"v":8},{"g":23,"s":22,"v":6},{"g":23,"s":23,"v":7},{"g":23,"s":24,"v":6},{"g":23,"s":25,"v":6},{"g":23,"s":26,"v":7},{"g":23,"s":27,"v":6},{"g":23,"s":28,"v":4},{"g":23,"s":29,"v":2},{"g":23,"s":30,"v":3},{"g":23,"s":31,"v":3},{"g":23,"s":32,"v":8},{"g":23,"s":33,"v":5},{"g":23,"s":34,"v":4},{"g":23,"s":35,"v":3},{"g":23,"s":36,"v":3},{"g":23,"s":37,"v":5},{"g":23,"s":38,"v":4},{"g":23,"s":39,"v":4},{"g":23,"s":44,"v":6},{"g":23,"s":45,"v":6},{"g":23,"s":46,"v":4},{"g":23,"s":47,"v":4},
{"g":24,"s":0,"v":5},{"g":24,"s":1,"v":7},{"g":24,"s":2,"v":5},{"g":24,"s":3,"v":5},{"g":24,"s":4,"v":5},{"g":24,"s":5,"v":4},{"g":24,"s":6,"v":4},{"g":24,"s":7,"v":4},{"g":24,"s":8,"v":5},{"g":24,"s":9,"v":6},{"g":24,"s":10,"v":2},{"g":24,"s":11,"v":2},{"g":24,"s":12,"v":7},{"g":24,"s":13,"v":4},{"g":24,"s":14,"v":8},{"g":24,"s":15,"v":9},{"g":24,"s":16,"v":7},{"g":24,"s":17,"v":9},{"g":24,"s":18,"v":5},{"g":24,"s":19,"v":5},{"g":24,"s":20,"v":7},{"g":24,"s":21,"v":4},{"g":24,"s":22,"v":7},{"g":24,"s":23,"v":5},{"g":24,"s":24,"v":4},{"g":24,"s":25,"v":7},{"g":24,"s":26,"v":3},{"g":24,"s":27,"v":3},{"g":24,"s":28,"v":5},{"g":24,"s":29,"v":6},{"g":24,"s":30,"v":6},{"g":24,"s":31,"v":6},{"g":24,"s":32,"v":7},{"g":24,"s":33,"v":6},{"g":24,"s":34,"v":6},{"g":24,"s":35,"v":6},{"g":24,"s":36,"v":6},{"g":24,"s":37,"v":4},{"g":24,"s":38,"v":6},{"g":24,"s":39,"v":7},{"g":24,"s":44,"v":5},{"g":24,"s":45,"v":6},{"g":24,"s":46,"v":4},{"g":24,"s":47,"v":4},
{"g":25,"s":0,"v":6},{"g":25,"s":1,"v":6},{"g":25,"s":2,"v":5},{"g":25,"s":3,"v":7},{"g":25,"s":4,"v":5},{"g":25,"s":5,"v":3},{"g":25,"s":6,"v":7},{"g":25,"s":7,"v":6},{"g":25,"s":8,"v":5},{"g":25,"s":9,"v":4},{"g":25,"s":10,"v":5},{"g":25,"s":11,"v":5},{"g":25,"s":12,"v":7},{"g":25,"s":13,"v":7},{"g":25,"s":14,"v":7},{"g":25,"s":15,"v":5},{"g":25,"s":16,"v":7},{"g":25,"s":17,"v":5},{"g":25,"s":18,"v":9},{"g":25,"s":19,"v":8},{"g":25,"s":20,"v":7},{"g":25,"s":21,"v":7},{"g":25,"s":22,"v":7},{"g":25,"s":23,"v":8},{"g":25,"s":24,"v":6},{"g":25,"s":25,"v":8},{"g":25,"s":26,"v":6},{"g":25,"s":27,"v":5},{"g":25,"s":28,"v":4},{"g":25,"s":29,"v":3},{"g":25,"s":30,"v":3},{"g":25,"s":31,"v":5},{"g":25,"s":32,"v":6},{"g":25,"s":33,"v":8},{"g":25,"s":34,"v":3},{"g":25,"s":35,"v":3},{"g":25,"s":36,"v":6},{"g":25,"s":37,"v":4},{"g":25,"s":38,"v":6},{"g":25,"s":39,"v":7},{"g":25,"s":44,"v":5},{"g":25,"s":45,"v":5},{"g":25,"s":46,"v":2},{"g":25,"s":47,"v":4},
{"g":26,"s":0,"v":5},{"g":26,"s":1,"v":3},{"g":26,"s":2,"v":5},{"g":26,"s":3,"v":4},{"g":26,"s":4,"v":4},{"g":26,"s":5,"v":4},{"g":26,"s":6,"v":6},{"g":26,"s":7,"v":5},{"g":26,"s":8,"v":5},{"g":26,"s":9,"v":5},{"g":26,"s":10,"v":5},{"g":26,"s":11,"v":3},{"g":26,"s":12,"v":4},{"g":26,"s":13,"v":3},{"g":26,"s":14,"v":2},{"g":26,"s":15,"v":3},{"g":26,"s":16,"v":3},{"g":26,"s":17,"v":4},{"g":26,"s":18,"v":6},{"g":26,"s":19,"v":8},{"g":26,"s":20,"v":9},{"g":26,"s":21,"v":7},{"g":26,"s":22,"v":9},{"g":26,"s":23,"v":9},{"g":26,"s":24,"v":4},{"g":26,"s":25,"v":5},{"g":26,"s":26,"v":6},{"g":26,"s":27,"v":7},{"g":26,"s":28,"v":6},{"g":26,"s":29,"v":2},{"g":26,"s":30,"v":4},{"g":26,"s":31,"v":4},{"g":26,"s":32,"v":5},{"g":26,"s":33,"v":5},{"g":26,"s":34,"v":7},{"g":26,"s":35,"v":6},{"g":26,"s":36,"v":9},{"g":26,"s":37,"v":4},{"g":26,"s":38,"v":10},{"g":26,"s":39,"v":9},{"g":26,"s":44,"v":6},{"g":26,"s":45,"v":6},{"g":26,"s":46,"v":6},{"g":26,"s":47,"v":5},
{"g":27,"s":0,"v":4},{"g":27,"s":1,"v":3},{"g":27,"s":2,"v":6},{"g":27,"s":3,"v":5},{"g":27,"s":4,"v":4},{"g":27,"s":5,"v":4},{"g":27,"s":6,"v":4},{"g":27,"s":7,"v":2},{"g":27,"s":8,"v":5},{"g":27,"s":9,"v":3},{"g":27,"s":10,"v":5},{"g":27,"s":11,"v":3},{"g":27,"s":12,"v":6},{"g":27,"s":13,"v":5},{"g":27,"s":14,"v":3},{"g":27,"s":15,"v":2},{"g":27,"s":16,"v":3},{"g":27,"s":17,"v":4},{"g":27,"s":18,"v":6},{"g":27,"s":19,"v":3},{"g":27,"s":20,"v":7},{"g":27,"s":21,"v":5},{"g":27,"s":22,"v":5},{"g":27,"s":23,"v":7},{"g":27,"s":24,"v":3},{"g":27,"s":25,"v":2},{"g":27,"s":26,"v":6},{"g":27,"s":27,"v":7},{"g":27,"s":28,"v":3},{"g":27,"s":29,"v":2},{"g":27,"s":30,"v":2},{"g":27,"s":31,"v":4},{"g":27,"s":32,"v":4},{"g":27,"s":33,"v":3},{"g":27,"s":34,"v":9},{"g":27,"s":35,"v":9},{"g":27,"s":36,"v":8},{"g":27,"s":37,"v":12},{"g":27,"s":38,"v":9},{"g":27,"s":39,"v":11},{"g":27,"s":44,"v":5},{"g":27,"s":45,"v":3},{"g":27,"s":46,"v":5},{"g":27,"s":47,"v":5},
{"g":28,"s":0,"v":8},{"g":28,"s":1,"v":8},{"g":28,"s":2,"v":7},{"g":28,"s":3,"v":7},{"g":28,"s":4,"v":7},{"g":28,"s":5,"v":4},{"g":28,"s":6,"v":5},{"g":28,"s":7,"v":5},{"g":28,"s":8,"v":7},{"g":28,"s":9,"v":5},{"g":28,"s":10,"v":5},{"g":28,"s":11,"v":3},{"g":28,"s":12,"v":7},{"g":28,"s":13,"v":7},{"g":28,"s":14,"v":0},{"g":28,"s":15,"v":1},{"g":28,"s":16,"v":4},{"g":28,"s":17,"v":1},{"g":28,"s":18,"v":5},{"g":28,"s":19,"v":7},{"g":28,"s":20,"v":7},{"g":28,"s":21,"v":8},{"g":28,"s":22,"v":10},{"g":28,"s":23,"v":9},{"g":28,"s":24,"v":6},{"g":28,"s":25,"v":5},{"g":28,"s":26,"v":2},{"g":28,"s":27,"v":4},{"g":28,"s":28,"v":2},{"g":28,"s":29,"v":2},{"g":28,"s":30,"v":4},{"g":28,"s":31,"v":4},{"g":28,"s":32,"v":6},{"g":28,"s":33,"v":4},{"g":28,"s":34,"v":6},{"g":28,"s":35,"v":6},{"g":28,"s":36,"v":5},{"g":28,"s":37,"v":10},{"g":28,"s":38,"v":7},{"g":28,"s":39,"v":7},{"g":28,"s":40,"v":2},{"g":28,"s":41,"v":5},{"g":28,"s":42,"v":5},{"g":28,"s":43,"v":5},{"g":28,"s":44,"v":1},{"g":28,"s":45,"v":0},{"g":28,"s":46,"v":3},{"g":28,"s":47,"v":1},
{"g":29,"s":0,"v":3},{"g":29,"s":1,"v":4},{"g":29,"s":2,"v":7},{"g":29,"s":3,"v":3},{"g":29,"s":4,"v":3},{"g":29,"s":5,"v":3},{"g":29,"s":6,"v":6},{"g":29,"s":7,"v":5},{"g":29,"s":8,"v":5},{"g":29,"s":9,"v":4},{"g":29,"s":10,"v":4},{"g":29,"s":11,"v":3},{"g":29,"s":12,"v":3},{"g":29,"s":13,"v":5},{"g":29,"s":14,"v":3},{"g":29,"s":15,"v":3},{"g":29,"s":16,"v":3},{"g":29,"s":17,"v":3},{"g":29,"s":18,"v":4},{"g":29,"s":19,"v":4},{"g":29,"s":20,"v":4},{"g":29,"s":21,"v":4},{"g":29,"s":22,"v":5},{"g":29,"s":23,"v":4},{"g":29,"s":24,"v":3},{"g":29,"s":25,"v":3},{"g":29,"s":26,"v":3},{"g":29,"s":27,"v":3},{"g":29,"s":28,"v":3},{"g":29,"s":29,"v":2},{"g":29,"s":30,"v":3},{"g":29,"s":31,"v":3},{"g":29,"s":32,"v":5},{"g":29,"s":33,"v":5},{"g":29,"s":34,"v":10},{"g":29,"s":35,"v":11},{"g":29,"s":36,"v":11},{"g":29,"s":37,"v":11},{"g":29,"s":38,"v":11},{"g":29,"s":39,"v":10},{"g":29,"s":40,"v":4},{"g":29,"s":41,"v":4},{"g":29,"s":42,"v":3},{"g":29,"s":43,"v":5},{"g":29,"s":44,"v":4},{"g":29,"s":45,"v":3},{"g":29,"s":46,"v":4},{"g":29,"s":47,"v":2},
{"g":30,"s":0,"v":4},{"g":30,"s":1,"v":7},{"g":30,"s":2,"v":7},{"g":30,"s":3,"v":7},{"g":30,"s":4,"v":8},{"g":30,"s":5,"v":4},{"g":30,"s":6,"v":1},{"g":30,"s":7,"v":1},{"g":30,"s":8,"v":3},{"g":30,"s":9,"v":1},{"g":30,"s":10,"v":1},{"g":30,"s":11,"v":1},{"g":30,"s":12,"v":7},{"g":30,"s":13,"v":7},{"g":30,"s":14,"v":1},{"g":30,"s":15,"v":0},{"g":30,"s":16,"v":4},{"g":30,"s":17,"v":2},{"g":30,"s":18,"v":8},{"g":30,"s":19,"v":8},{"g":30,"s":20,"v":6},{"g":30,"s":21,"v":6},{"g":30,"s":22,"v":7},{"g":30,"s":23,"v":8},{"g":30,"s":24,"v":8},{"g":30,"s":25,"v":6},{"g":30,"s":26,"v":6},{"g":30,"s":27,"v":6},{"g":30,"s":28,"v":4},{"g":30,"s":29,"v":8},{"g":30,"s":30,"v":6},{"g":30,"s":31,"v":6},{"g":30,"s":32,"v":1},{"g":30,"s":33,"v":3},{"g":30,"s":34,"v":7},{"g":30,"s":35,"v":7},{"g":30,"s":36,"v":8},{"g":30,"s":37,"v":8},{"g":30,"s":38,"v":8},{"g":30,"s":39,"v":6},{"g":30,"s":40,"v":8},{"g":30,"s":41,"v":8},{"g":30,"s":42,"v":6},{"g":30,"s":43,"v":6},{"g":30,"s":44,"v":5},{"g":30,"s":45,"v":2},{"g":30,"s":46,"v":4},{"g":30,"s":47,"v":4},
{"g":31,"s":0,"v":3},{"g":31,"s":1,"v":3},{"g":31,"s":2,"v":5},{"g":31,"s":3,"v":5},{"g":31,"s":4,"v":3},{"g":31,"s":5,"v":2},{"g":31,"s":6,"v":1},{"g":31,"s":7,"v":1},{"g":31,"s":8,"v":2},{"g":31,"s":9,"v":2},{"g":31,"s":10,"v":2},{"g":31,"s":11,"v":2},{"g":31,"s":12,"v":4},{"g":31,"s":13,"v":4},{"g":31,"s":14,"v":1},{"g":31,"s":15,"v":1},{"g":31,"s":16,"v":5},{"g":31,"s":17,"v":2},{"g":31,"s":18,"v":8},{"g":31,"s":19,"v":8},{"g":31,"s":20,"v":7},{"g":31,"s":21,"v":7},{"g":31,"s":22,"v":8},{"g":31,"s":23,"v":7},{"g":31,"s":24,"v":7},{"g":31,"s":25,"v":7},{"g":31,"s":26,"v":5},{"g":31,"s":27,"v":5},{"g":31,"s":28,"v":5},{"g":31,"s":29,"v":4},{"g":31,"s":30,"v":6},{"g":31,"s":31,"v":6},{"g":31,"s":32,"v":2},{"g":31,"s":33,"v":3},{"g":31,"s":34,"v":8},{"g":31,"s":35,"v":8},{"g":31,"s":36,"v":9},{"g":31,"s":37,"v":8},{"g":31,"s":38,"v":7},{"g":31,"s":39,"v":7},{"g":31,"s":40,"v":8},{"g":31,"s":41,"v":9},{"g":31,"s":42,"v":7},{"g":31,"s":43,"v":7},{"g":31,"s":44,"v":6},{"g":31,"s":45,"v":6},{"g":31,"s":46,"v":7},{"g":31,"s":47,"v":5},
{"g":32,"s":0,"v":3},{"g":32,"s":1,"v":3},{"g":32,"s":2,"v":4},{"g":32,"s":3,"v":5},{"g":32,"s":4,"v":4},{"g":32,"s":5,"v":3},{"g":32,"s":6,"v":1},{"g":32,"s":7,"v":1},{"g":32,"s":8,"v":1},{"g":32,"s":9,"v":1},{"g":32,"s":10,"v":1},{"g":32,"s":11,"v":1},{"g":32,"s":12,"v":3},{"g":32,"s":13,"v":4},{"g":32,"s":14,"v":2},{"g":32,"s":15,"v":1},{"g":32,"s":16,"v":5},{"g":32,"s":17,"v":2},{"g":32,"s":18,"v":5},{"g":32,"s":19,"v":8},{"g":32,"s":20,"v":6},{"g":32,"s":21,"v":7},{"g":32,"s":22,"v":8},{"g":32,"s":23,"v":7},{"g":32,"s":24,"v":8},{"g":32,"s":25,"v":8},{"g":32,"s":26,"v":5},{"g":32,"s":27,"v":5},{"g":32,"s":28,"v":5},{"g":32,"s":29,"v":5},{"g":32,"s":30,"v":6},{"g":32,"s":31,"v":6},{"g":32,"s":32,"v":2},{"g":32,"s":33,"v":3},{"g":32,"s":34,"v":8},{"g":32,"s":35,"v":8},{"g":32,"s":36,"v":9},{"g":32,"s":37,"v":8},{"g":32,"s":38,"v":7},{"g":32,"s":39,"v":7},{"g":32,"s":40,"v":8},{"g":32,"s":41,"v":9},{"g":32,"s":42,"v":7},{"g":32,"s":43,"v":7},{"g":32,"s":44,"v":7},{"g":32,"s":45,"v":7},{"g":32,"s":46,"v":7},{"g":32,"s":47,"v":5},
{"g":33,"s":0,"v":3},{"g":33,"s":1,"v":3},{"g":33,"s":2,"v":4},{"g":33,"s":3,"v":5},{"g":33,"s":4,"v":4},{"g":33,"s":5,"v":4},{"g":33,"s":6,"v":1},{"g":33,"s":7,"v":1},{"g":33,"s":8,"v":1},{"g":33,"s":9,"v":1},{"g":33,"s":10,"v":2},{"g":33,"s":11,"v":1},{"g":33,"s":12,"v":3},{"g":33,"s":13,"v":4},{"g":33,"s":14,"v":2},{"g":33,"s":15,"v":1},{"g":33,"s":16,"v":5},{"g":33,"s":17,"v":1},{"g":33,"s":18,"v":5},{"g":33,"s":19,"v":5},{"g":33,"s":20,"v":8},{"g":33,"s":21,"v":7},{"g":33,"s":22,"v":8},{"g":33,"s":23,"v":8},{"g":33,"s":24,"v":8},{"g":33,"s":25,"v":9},{"g":33,"s":26,"v":5},{"g":33,"s":27,"v":5},{"g":33,"s":28,"v":6},{"g":33,"s":29,"v":6},{"g":33,"s":30,"v":7},{"g":33,"s":31,"v":5},{"g":33,"s":32,"v":3},{"g":33,"s":33,"v":2},{"g":33,"s":34,"v":8},{"g":33,"s":35,"v":8},{"g":33,"s":36,"v":9},{"g":33,"s":37,"v":7},{"g":33,"s":38,"v":7},{"g":33,"s":39,"v":7},{"g":33,"s":40,"v":7},{"g":33,"s":41,"v":9},{"g":33,"s":42,"v":7},{"g":33,"s":43,"v":8},{"g":33,"s":44,"v":5},{"g":33,"s":45,"v":5},{"g":33,"s":46,"v":8},{"g":33,"s":47,"v":5},
{"g":34,"s":0,"v":2},{"g":34,"s":1,"v":3},{"g":34,"s":2,"v":4},{"g":34,"s":3,"v":5},{"g":34,"s":4,"v":4},{"g":34,"s":5,"v":4},{"g":34,"s":6,"v":1},{"g":34,"s":7,"v":2},{"g":34,"s":8,"v":1},{"g":34,"s":9,"v":2},{"g":34,"s":10,"v":1},{"g":34,"s":11,"v":1},{"g":34,"s":12,"v":4},{"g":34,"s":13,"v":4},{"g":34,"s":14,"v":1},{"g":34,"s":15,"v":1},{"g":34,"s":16,"v":5},{"g":34,"s":17,"v":2},{"g":34,"s":18,"v":5},{"g":34,"s":19,"v":7},{"g":34,"s":20,"v":7},{"g":34,"s":21,"v":7},{"g":34,"s":22,"v":8},{"g":34,"s":23,"v":8},{"g":34,"s":24,"v":8},{"g":34,"s":25,"v":8},{"g":34,"s":26,"v":6},{"g":34,"s":27,"v":5},{"g":34,"s":28,"v":5},{"g":34,"s":29,"v":5},{"g":34,"s":30,"v":6},{"g":34,"s":31,"v":5},{"g":34,"s":32,"v":2},{"g":34,"s":33,"v":1},{"g":34,"s":34,"v":8},{"g":34,"s":35,"v":8},{"g":34,"s":36,"v":10},{"g":34,"s":37,"v":9},{"g":34,"s":38,"v":7},{"g":34,"s":39,"v":7},{"g":34,"s":40,"v":8},{"g":34,"s":41,"v":10},{"g":34,"s":42,"v":8},{"g":34,"s":43,"v":7},{"g":34,"s":44,"v":6},{"g":34,"s":45,"v":5},{"g":34,"s":46,"v":8},{"g":34,"s":47,"v":5},
{"g":35,"s":0,"v":4},{"g":35,"s":1,"v":3},{"g":35,"s":2,"v":6},{"g":35,"s":3,"v":5},{"g":35,"s":4,"v":4},{"g":35,"s":5,"v":4},{"g":35,"s":6,"v":1},{"g":35,"s":7,"v":1},{"g":35,"s":8,"v":1},{"g":35,"s":9,"v":1},{"g":35,"s":10,"v":1},{"g":35,"s":11,"v":1},{"g":35,"s":12,"v":4},{"g":35,"s":13,"v":4},{"g":35,"s":14,"v":0},{"g":35,"s":15,"v":0},{"g":35,"s":16,"v":5},{"g":35,"s":17,"v":2},{"g":35,"s":18,"v":8},{"g":35,"s":19,"v":8},{"g":35,"s":20,"v":8},{"g":35,"s":21,"v":7},{"g":35,"s":22,"v":8},{"g":35,"s":23,"v":8},{"g":35,"s":24,"v":5},{"g":35,"s":25,"v":5},{"g":35,"s":26,"v":5},{"g":35,"s":27,"v":5},{"g":35,"s":28,"v":3},{"g":35,"s":29,"v":3},{"g":35,"s":30,"v":5},{"g":35,"s":31,"v":5},{"g":35,"s":32,"v":2},{"g":35,"s":33,"v":2},{"g":35,"s":34,"v":8},{"g":35,"s":35,"v":8},{"g":35,"s":36,"v":9},{"g":35,"s":37,"v":9},{"g":35,"s":38,"v":8},{"g":35,"s":39,"v":8},{"g":35,"s":40,"v":7},{"g":35,"s":41,"v":9},{"g":35,"s":42,"v":8},{"g":35,"s":43,"v":8},{"g":35,"s":44,"v":7},{"g":35,"s":45,"v":7},{"g":35,"s":46,"v":8},{"g":35,"s":47,"v":6},
{"g":36,"s":0,"v":5},{"g":36,"s":1,"v":5},{"g":36,"s":2,"v":6},{"g":36,"s":3,"v":7},{"g":36,"s":4,"v":2},{"g":36,"s":5,"v":1},{"g":36,"s":6,"v":2},{"g":36,"s":7,"v":2},{"g":36,"s":8,"v":2},{"g":36,"s":9,"v":2},{"g":36,"s":10,"v":3},{"g":36,"s":11,"v":2},{"g":36,"s":12,"v":2},{"g":36,"s":13,"v":3},{"g":36,"s":14,"v":2},{"g":36,"s":15,"v":2},{"g":36,"s":16,"v":2},{"g":36,"s":17,"v":2},{"g":36,"s":18,"v":7},{"g":36,"s":19,"v":7},{"g":36,"s":20,"v":3},{"g":36,"s":21,"v":3},{"g":36,"s":22,"v":2},{"g":36,"s":23,"v":2},{"g":36,"s":24,"v":5},{"g":36,"s":25,"v":5},{"g":36,"s":26,"v":10},{"g":36,"s":27,"v":10},{"g":36,"s":28,"v":5},{"g":36,"s":29,"v":5},{"g":36,"s":30,"v":5},{"g":36,"s":31,"v":5},{"g":36,"s":32,"v":8},{"g":36,"s":33,"v":8},{"g":36,"s":34,"v":6},{"g":36,"s":35,"v":6},{"g":36,"s":36,"v":4},{"g":36,"s":37,"v":3},{"g":36,"s":38,"v":6},{"g":36,"s":39,"v":5},{"g":36,"s":40,"v":8},{"g":36,"s":41,"v":7},{"g":36,"s":42,"v":7},{"g":36,"s":43,"v":7},{"g":36,"s":44,"v":5},{"g":36,"s":45,"v":5},{"g":36,"s":46,"v":6},{"g":36,"s":47,"v":6},
{"g":37,"s":0,"v":6},{"g":37,"s":1,"v":6},{"g":37,"s":2,"v":6},{"g":37,"s":3,"v":7},{"g":37,"s":4,"v":2},{"g":37,"s":5,"v":2},{"g":37,"s":6,"v":2},{"g":37,"s":7,"v":2},{"g":37,"s":8,"v":2},{"g":37,"s":9,"v":2},{"g":37,"s":10,"v":2},{"g":37,"s":11,"v":2},{"g":37,"s":12,"v":2},{"g":37,"s":13,"v":2},{"g":37,"s":14,"v":2},{"g":37,"s":15,"v":2},{"g":37,"s":16,"v":2},{"g":37,"s":17,"v":2},{"g":37,"s":18,"v":8},{"g":37,"s":19,"v":7},{"g":37,"s":20,"v":2},{"g":37,"s":21,"v":2},{"g":37,"s":22,"v":2},{"g":37,"s":23,"v":2},{"g":37,"s":24,"v":5},{"g":37,"s":25,"v":4},{"g":37,"s":26,"v":10},{"g":37,"s":27,"v":9},{"g":37,"s":28,"v":5},{"g":37,"s":29,"v":5},{"g":37,"s":30,"v":5},{"g":37,"s":31,"v":5},{"g":37,"s":32,"v":8},{"g":37,"s":33,"v":8},{"g":37,"s":34,"v":6},{"g":37,"s":35,"v":5},{"g":37,"s":36,"v":4},{"g":37,"s":37,"v":3},{"g":37,"s":38,"v":6},{"g":37,"s":39,"v":6},{"g":37,"s":40,"v":7},{"g":37,"s":41,"v":8},{"g":37,"s":42,"v":8},{"g":37,"s":43,"v":7},{"g":37,"s":44,"v":5},{"g":37,"s":45,"v":5},{"g":37,"s":46,"v":6},{"g":37,"s":47,"v":6},
{"g":38,"s":0,"v":6},{"g":38,"s":1,"v":5},{"g":38,"s":2,"v":6},{"g":38,"s":3,"v":7},{"g":38,"s":4,"v":2},{"g":38,"s":5,"v":1},{"g":38,"s":6,"v":2},{"g":38,"s":7,"v":2},{"g":38,"s":8,"v":2},{"g":38,"s":9,"v":2},{"g":38,"s":10,"v":3},{"g":38,"s":11,"v":2},{"g":38,"s":12,"v":2},{"g":38,"s":13,"v":2},{"g":38,"s":14,"v":2},{"g":38,"s":15,"v":2},{"g":38,"s":16,"v":2},{"g":38,"s":17,"v":2},{"g":38,"s":18,"v":8},{"g":38,"s":19,"v":6},{"g":38,"s":20,"v":1},{"g":38,"s":21,"v":1},{"g":38,"s":22,"v":1},{"g":38,"s":23,"v":1},{"g":38,"s":24,"v":6},{"g":38,"s":25,"v":5},{"g":38,"s":26,"v":11},{"g":38,"s":27,"v":10},{"g":38,"s":28,"v":6},{"g":38,"s":29,"v":5},{"g":38,"s":30,"v":6},{"g":38,"s":31,"v":6},{"g":38,"s":32,"v":8},{"g":38,"s":33,"v":8},{"g":38,"s":34,"v":6},{"g":38,"s":35,"v":6},{"g":38,"s":36,"v":5},{"g":38,"s":37,"v":4},{"g":38,"s":38,"v":6},{"g":38,"s":39,"v":6},{"g":38,"s":40,"v":6},{"g":38,"s":41,"v":7},{"g":38,"s":42,"v":7},{"g":38,"s":43,"v":7},{"g":38,"s":44,"v":6},{"g":38,"s":45,"v":5},{"g":38,"s":46,"v":6},{"g":38,"s":47,"v":6},
{"g":39,"s":0,"v":1},{"g":39,"s":1,"v":2},{"g":39,"s":2,"v":7},{"g":39,"s":3,"v":6},{"g":39,"s":4,"v":2},{"g":39,"s":5,"v":3},{"g":39,"s":6,"v":4},{"g":39,"s":7,"v":4},{"g":39,"s":8,"v":4},{"g":39,"s":9,"v":8},{"g":39,"s":10,"v":5},{"g":39,"s":11,"v":8},{"g":39,"s":12,"v":6},{"g":39,"s":13,"v":5},{"g":39,"s":14,"v":5},{"g":39,"s":15,"v":7},{"g":39,"s":16,"v":7},{"g":39,"s":17,"v":3},{"g":39,"s":18,"v":10},{"g":39,"s":19,"v":12},{"g":39,"s":20,"v":6},{"g":39,"s":21,"v":3},{"g":39,"s":22,"v":1},{"g":39,"s":23,"v":0},{"g":39,"s":24,"v":7},{"g":39,"s":25,"v":5},{"g":39,"s":26,"v":3},{"g":39,"s":27,"v":6},{"g":39,"s":28,"v":2},{"g":39,"s":29,"v":0},{"g":39,"s":30,"v":3},{"g":39,"s":31,"v":6},{"g":39,"s":32,"v":5},{"g":39,"s":33,"v":5},{"g":39,"s":34,"v":5},{"g":39,"s":35,"v":5},{"g":39,"s":36,"v":2},{"g":39,"s":37,"v":8},{"g":39,"s":38,"v":4},{"g":39,"s":39,"v":3},{"g":39,"s":40,"v":8},{"g":39,"s":41,"v":5},{"g":39,"s":42,"v":7},{"g":39,"s":43,"v":8},{"g":39,"s":44,"v":5},{"g":39,"s":45,"v":4},{"g":39,"s":46,"v":6},{"g":39,"s":47,"v":3},
{"g":40,"s":0,"v":8},{"g":40,"s":1,"v":5},{"g":40,"s":2,"v":5},{"g":40,"s":3,"v":5},{"g":40,"s":4,"v":8},{"g":40,"s":5,"v":2},{"g":40,"s":6,"v":3},{"g":40,"s":7,"v":5},{"g":40,"s":8,"v":5},{"g":40,"s":9,"v":2},{"g":40,"s":10,"v":5},{"g":40,"s":11,"v":5},{"g":40,"s":12,"v":7},{"g":40,"s":13,"v":2},{"g":40,"s":14,"v":5},{"g":40,"s":15,"v":8},{"g":40,"s":16,"v":5},{"g":40,"s":17,"v":5},{"g":40,"s":18,"v":11},{"g":40,"s":19,"v":9},{"g":40,"s":20,"v":4},{"g":40,"s":21,"v":6},{"g":40,"s":22,"v":1},{"g":40,"s":23,"v":4},{"g":40,"s":24,"v":5},{"g":40,"s":25,"v":5},{"g":40,"s":26,"v":9},{"g":40,"s":27,"v":10},{"g":40,"s":28,"v":3},{"g":40,"s":29,"v":0},{"g":40,"s":30,"v":4},{"g":40,"s":31,"v":4},{"g":40,"s":32,"v":9},{"g":40,"s":33,"v":4},{"g":40,"s":34,"v":3},{"g":40,"s":35,"v":0},{"g":40,"s":36,"v":7},{"g":40,"s":37,"v":5},{"g":40,"s":38,"v":4},{"g":40,"s":39,"v":5},{"g":40,"s":40,"v":6},{"g":40,"s":41,"v":4},{"g":40,"s":42,"v":4},{"g":40,"s":43,"v":6},{"g":40,"s":44,"v":5},{"g":40,"s":45,"v":4},{"g":40,"s":46,"v":5},{"g":40,"s":47,"v":8},
{"g":41,"s":0,"v":4},{"g":41,"s":1,"v":4},{"g":41,"s":2,"v":3},{"g":41,"s":3,"v":2},{"g":41,"s":4,"v":4},{"g":41,"s":5,"v":1},{"g":41,"s":6,"v":7},{"g":41,"s":7,"v":5},{"g":41,"s":8,"v":6},{"g":41,"s":9,"v":6},{"g":41,"s":10,"v":10},{"g":41,"s":11,"v":10},{"g":41,"s":12,"v":3},{"g":41,"s":13,"v":3},{"g":41,"s":14,"v":4},{"g":41,"s":15,"v":3},{"g":41,"s":16,"v":3},{"g":41,"s":17,"v":3},{"g":41,"s":18,"v":4},{"g":41,"s":19,"v":5},{"g":41,"s":20,"v":3},{"g":41,"s":21,"v":3},{"g":41,"s":22,"v":4},{"g":41,"s":23,"v":4},{"g":41,"s":24,"v":4},{"g":41,"s":25,"v":4},{"g":41,"s":26,"v":8},{"g":41,"s":27,"v":8},{"g":41,"s":28,"v":3},{"g":41,"s":29,"v":3},{"g":41,"s":30,"v":4},{"g":41,"s":31,"v":4},{"g":41,"s":32,"v":4},{"g":41,"s":33,"v":5},{"g":41,"s":34,"v":3},{"g":41,"s":35,"v":2},{"g":41,"s":36,"v":2},{"g":41,"s":37,"v":2},{"g":41,"s":38,"v":4},{"g":41,"s":39,"v":3},{"g":41,"s":40,"v":3},{"g":41,"s":41,"v":3},{"g":41,"s":42,"v":8},{"g":41,"s":43,"v":6},{"g":41,"s":44,"v":12},{"g":41,"s":45,"v":10},{"g":41,"s":46,"v":6},{"g":41,"s":47,"v":8},
{"g":42,"s":0,"v":5},{"g":42,"s":1,"v":3},{"g":42,"s":2,"v":5},{"g":42,"s":3,"v":3},{"g":42,"s":4,"v":4},{"g":42,"s":5,"v":3},{"g":42,"s":6,"v":6},{"g":42,"s":7,"v":4},{"g":42,"s":8,"v":7},{"g":42,"s":9,"v":5},{"g":42,"s":10,"v":10},{"g":42,"s":11,"v":12},{"g":42,"s":12,"v":3},{"g":42,"s":13,"v":2},{"g":42,"s":14,"v":2},{"g":42,"s":15,"v":1},{"g":42,"s":16,"v":3},{"g":42,"s":17,"v":2},{"g":42,"s":18,"v":6},{"g":42,"s":19,"v":4},{"g":42,"s":20,"v":7},{"g":42,"s":21,"v":7},{"g":42,"s":22,"v":5},{"g":42,"s":23,"v":7},{"g":42,"s":24,"v":4},{"g":42,"s":25,"v":4},{"g":42,"s":26,"v":8},{"g":42,"s":27,"v":5},{"g":42,"s":28,"v":2},{"g":42,"s":29,"v":1},{"g":42,"s":30,"v":3},{"g":42,"s":31,"v":3},{"g":42,"s":32,"v":4},{"g":42,"s":33,"v":5},{"g":42,"s":34,"v":2},{"g":42,"s":35,"v":1},{"g":42,"s":36,"v":3},{"g":42,"s":37,"v":2},{"g":42,"s":38,"v":4},{"g":42,"s":39,"v":2},{"g":42,"s":40,"v":3},{"g":42,"s":41,"v":6},{"g":42,"s":42,"v":8},{"g":42,"s":43,"v":7},{"g":42,"s":44,"v":8},{"g":42,"s":45,"v":9},{"g":42,"s":46,"v":7},{"g":42,"s":47,"v":8},
{"g":43,"s":0,"v":3},{"g":43,"s":1,"v":3},{"g":43,"s":2,"v":2},{"g":43,"s":3,"v":3},{"g":43,"s":4,"v":3},{"g":43,"s":5,"v":1},{"g":43,"s":6,"v":5},{"g":43,"s":7,"v":5},{"g":43,"s":8,"v":5},{"g":43,"s":9,"v":5},{"g":43,"s":10,"v":10},{"g":43,"s":11,"v":11},{"g":43,"s":12,"v":3},{"g":43,"s":13,"v":2},{"g":43,"s":14,"v":2},{"g":43,"s":15,"v":3},{"g":43,"s":16,"v":3},{"g":43,"s":17,"v":4},{"g":43,"s":18,"v":5},{"g":43,"s":19,"v":6},{"g":43,"s":20,"v":5},{"g":43,"s":21,"v":5},{"g":43,"s":22,"v":5},{"g":43,"s":23,"v":4},{"g":43,"s":24,"v":5},{"g":43,"s":25,"v":4},{"g":43,"s":26,"v":9},{"g":43,"s":27,"v":8},{"g":43,"s":28,"v":3},{"g":43,"s":29,"v":3},{"g":43,"s":30,"v":3},{"g":43,"s":31,"v":5},{"g":43,"s":32,"v":2},{"g":43,"s":33,"v":3},{"g":43,"s":34,"v":3},{"g":43,"s":35,"v":3},{"g":43,"s":36,"v":4},{"g":43,"s":37,"v":4},{"g":43,"s":38,"v":3},{"g":43,"s":39,"v":2},{"g":43,"s":40,"v":3},{"g":43,"s":41,"v":3},{"g":43,"s":42,"v":9},{"g":43,"s":43,"v":9},{"g":43,"s":44,"v":8},{"g":43,"s":45,"v":8},{"g":43,"s":46,"v":10},{"g":43,"s":47,"v":9},
{"g":44,"s":0,"v":3},{"g":44,"s":1,"v":3},{"g":44,"s":2,"v":2},{"g":44,"s":3,"v":3},{"g":44,"s":4,"v":4},{"g":44,"s":5,"v":3},{"g":44,"s":6,"v":5},{"g":44,"s":7,"v":6},{"g":44,"s":8,"v":5},{"g":44,"s":9,"v":5},{"g":44,"s":10,"v":10},{"g":44,"s":11,"v":10},{"g":44,"s":12,"v":3},{"g":44,"s":13,"v":3},{"g":44,"s":14,"v":2},{"g":44,"s":15,"v":3},{"g":44,"s":16,"v":4},{"g":44,"s":17,"v":3},{"g":44,"s":18,"v":3},{"g":44,"s":19,"v":3},{"g":44,"s":20,"v":5},{"g":44,"s":21,"v":5},{"g":44,"s":22,"v":5},{"g":44,"s":23,"v":5},{"g":44,"s":24,"v":5},{"g":44,"s":25,"v":5},{"g":44,"s":26,"v":9},{"g":44,"s":27,"v":9},{"g":44,"s":28,"v":2},{"g":44,"s":29,"v":2},{"g":44,"s":30,"v":3},{"g":44,"s":31,"v":3},{"g":44,"s":32,"v":4},{"g":44,"s":33,"v":2},{"g":44,"s":34,"v":3},{"g":44,"s":35,"v":3},{"g":44,"s":36,"v":3},{"g":44,"s":37,"v":4},{"g":44,"s":38,"v":4},{"g":44,"s":39,"v":3},{"g":44,"s":40,"v":3},{"g":44,"s":41,"v":3},{"g":44,"s":42,"v":8},{"g":44,"s":43,"v":8},{"g":44,"s":44,"v":8},{"g":44,"s":45,"v":8},{"g":44,"s":46,"v":11},{"g":44,"s":47,"v":9},
{"g":45,"s":0,"v":5},{"g":45,"s":1,"v":5},{"g":45,"s":2,"v":2},{"g":45,"s":3,"v":3},{"g":45,"s":4,"v":3},{"g":45,"s":5,"v":3},{"g":45,"s":6,"v":8},{"g":45,"s":7,"v":7},{"g":45,"s":8,"v":6},{"g":45,"s":9,"v":6},{"g":45,"s":10,"v":10},{"g":45,"s":11,"v":11},{"g":45,"s":12,"v":3},{"g":45,"s":13,"v":3},{"g":45,"s":14,"v":4},{"g":45,"s":15,"v":5},{"g":45,"s":16,"v":5},{"g":45,"s":17,"v":4},{"g":45,"s":18,"v":6},{"g":45,"s":19,"v":5},{"g":45,"s":20,"v":4},{"g":45,"s":21,"v":4},{"g":45,"s":22,"v":4},{"g":45,"s":23,"v":4},{"g":45,"s":24,"v":4},{"g":45,"s":25,"v":3},{"g":45,"s":26,"v":6},{"g":45,"s":27,"v":6},{"g":45,"s":28,"v":2},{"g":45,"s":29,"v":1},{"g":45,"s":30,"v":2},{"g":45,"s":31,"v":3},{"g":45,"s":32,"v":4},{"g":45,"s":33,"v":3},{"g":45,"s":34,"v":3},{"g":45,"s":35,"v":3},{"g":45,"s":36,"v":3},{"g":45,"s":37,"v":1},{"g":45,"s":38,"v":3},{"g":45,"s":39,"v":3},{"g":45,"s":40,"v":3},{"g":45,"s":41,"v":1},{"g":45,"s":42,"v":8},{"g":45,"s":43,"v":8},{"g":45,"s":44,"v":7},{"g":45,"s":45,"v":9},{"g":45,"s":46,"v":9},{"g":45,"s":47,"v":9},
{"g":46,"s":0,"v":5},{"g":46,"s":1,"v":4},{"g":46,"s":2,"v":5},{"g":46,"s":3,"v":3},{"g":46,"s":4,"v":3},{"g":46,"s":5,"v":4},{"g":46,"s":6,"v":5},{"g":46,"s":7,"v":6},{"g":46,"s":8,"v":7},{"g":46,"s":9,"v":5},{"g":46,"s":10,"v":10},{"g":46,"s":11,"v":10},{"g":46,"s":12,"v":3},{"g":46,"s":13,"v":3},{"g":46,"s":14,"v":2},{"g":46,"s":15,"v":2},{"g":46,"s":16,"v":3},{"g":46,"s":17,"v":3},{"g":46,"s":18,"v":3},{"g":46,"s":19,"v":3},{"g":46,"s":20,"v":5},{"g":46,"s":21,"v":5},{"g":46,"s":22,"v":5},{"g":46,"s":23,"v":5},{"g":46,"s":24,"v":3},{"g":46,"s":25,"v":3},{"g":46,"s":26,"v":8},{"g":46,"s":27,"v":8},{"g":46,"s":28,"v":3},{"g":46,"s":29,"v":3},{"g":46,"s":30,"v":3},{"g":46,"s":31,"v":3},{"g":46,"s":32,"v":4},{"g":46,"s":33,"v":4},{"g":46,"s":34,"v":3},{"g":46,"s":35,"v":3},{"g":46,"s":36,"v":4},{"g":46,"s":37,"v":3},{"g":46,"s":38,"v":3},{"g":46,"s":39,"v":3},{"g":46,"s":40,"v":3},{"g":46,"s":41,"v":2},{"g":46,"s":42,"v":10},{"g":46,"s":43,"v":9},{"g":46,"s":44,"v":9},{"g":46,"s":45,"v":8},{"g":46,"s":46,"v":11},{"g":46,"s":47,"v":9},
{"g":47,"s":0,"v":2},{"g":47,"s":1,"v":2},{"g":47,"s":2,"v":2},{"g":47,"s":3,"v":3},{"g":47,"s":4,"v":5},{"g":47,"s":5,"v":4},{"g":47,"s":6,"v":5},{"g":47,"s":7,"v":5},{"g":47,"s":8,"v":6},{"g":47,"s":9,"v":5},{"g":47,"s":10,"v":8},{"g":47,"s":11,"v":8},{"g":47,"s":12,"v":3},{"g":47,"s":13,"v":3},{"g":47,"s":14,"v":1},{"g":47,"s":15,"v":1},{"g":47,"s":16,"v":3},{"g":47,"s":17,"v":2},{"g":47,"s":18,"v":3},{"g":47,"s":19,"v":3},{"g":47,"s":20,"v":6},{"g":47,"s":21,"v":6},{"g":47,"s":22,"v":6},{"g":47,"s":23,"v":7},{"g":47,"s":24,"v":6},{"g":47,"s":25,"v":3},{"g":47,"s":26,"v":10},{"g":47,"s":27,"v":9},{"g":47,"s":28,"v":3},{"g":47,"s":29,"v":3},{"g":47,"s":30,"v":3},{"g":47,"s":31,"v":3},{"g":47,"s":32,"v":3},{"g":47,"s":33,"v":3},{"g":47,"s":34,"v":3},{"g":47,"s":35,"v":3},{"g":47,"s":36,"v":4},{"g":47,"s":37,"v":3},{"g":47,"s":38,"v":3},{"g":47,"s":39,"v":3},{"g":47,"s":40,"v":3},{"g":47,"s":41,"v":3},{"g":47,"s":42,"v":10},{"g":47,"s":43,"v":10},{"g":47,"s":44,"v":6},{"g":47,"s":45,"v":8},{"g":47,"s":46,"v":9},{"g":47,"s":47,"v":10},
{"g":48,"s":0,"v":3},{"g":48,"s":1,"v":3},{"g":48,"s":2,"v":3},{"g":48,"s":3,"v":3},{"g":48,"s":4,"v":5},{"g":48,"s":5,"v":4},{"g":48,"s":6,"v":5},{"g":48,"s":7,"v":5},{"g":48,"s":8,"v":5},{"g":48,"s":9,"v":6},{"g":48,"s":10,"v":10},{"g":48,"s":11,"v":9},{"g":48,"s":12,"v":3},{"g":48,"s":13,"v":3},{"g":48,"s":14,"v":3},{"g":48,"s":15,"v":2},{"g":48,"s":16,"v":3},{"g":48,"s":17,"v":2},{"g":48,"s":18,"v":3},{"g":48,"s":19,"v":3},{"g":48,"s":20,"v":6},{"g":48,"s":21,"v":6},{"g":48,"s":22,"v":7},{"g":48,"s":23,"v":6},{"g":48,"s":24,"v":3},{"g":48,"s":25,"v":3},{"g":48,"s":26,"v":10},{"g":48,"s":27,"v":10},{"g":48,"s":28,"v":3},{"g":48,"s":29,"v":2},{"g":48,"s":30,"v":3},{"g":48,"s":31,"v":3},{"g":48,"s":32,"v":3},{"g":48,"s":33,"v":3},{"g":48,"s":34,"v":3},{"g":48,"s":35,"v":3},{"g":48,"s":36,"v":4},{"g":48,"s":37,"v":4},{"g":48,"s":38,"v":2},{"g":48,"s":39,"v":3},{"g":48,"s":40,"v":3},{"g":48,"s":41,"v":3},{"g":48,"s":42,"v":10},{"g":48,"s":43,"v":10},{"g":48,"s":44,"v":5},{"g":48,"s":45,"v":5},{"g":48,"s":46,"v":9},{"g":48,"s":47,"v":9},
{"g":49,"s":0,"v":2},{"g":49,"s":1,"v":4},{"g":49,"s":2,"v":4},{"g":49,"s":3,"v":3},{"g":49,"s":4,"v":3},{"g":49,"s":5,"v":4},{"g":49,"s":6,"v":6},{"g":49,"s":7,"v":5},{"g":49,"s":8,"v":5},{"g":49,"s":9,"v":4},{"g":49,"s":10,"v":10},{"g":49,"s":11,"v":10},{"g":49,"s":12,"v":3},{"g":49,"s":13,"v":3},{"g":49,"s":14,"v":4},{"g":49,"s":15,"v":3},{"g":49,"s":16,"v":5},{"g":49,"s":17,"v":3},{"g":49,"s":18,"v":3},{"g":49,"s":19,"v":3},{"g":49,"s":20,"v":3},{"g":49,"s":21,"v":3},{"g":49,"s":22,"v":5},{"g":49,"s":23,"v":5},{"g":49,"s":24,"v":4},{"g":49,"s":25,"v":1},{"g":49,"s":26,"v":10},{"g":49,"s":27,"v":10},{"g":49,"s":28,"v":2},{"g":49,"s":29,"v":2},{"g":49,"s":30,"v":3},{"g":49,"s":31,"v":3},{"g":49,"s":32,"v":4},{"g":49,"s":33,"v":2},{"g":49,"s":34,"v":4},{"g":49,"s":35,"v":3},{"g":49,"s":36,"v":3},{"g":49,"s":37,"v":4},{"g":49,"s":38,"v":4},{"g":49,"s":39,"v":3},{"g":49,"s":40,"v":3},{"g":49,"s":41,"v":3},{"g":49,"s":42,"v":11},{"g":49,"s":43,"v":10},{"g":49,"s":44,"v":5},{"g":49,"s":45,"v":5},{"g":49,"s":46,"v":10},{"g":49,"s":47,"v":9},
{"g":50,"s":0,"v":3},{"g":50,"s":1,"v":2},{"g":50,"s":2,"v":3},{"g":50,"s":3,"v":3},{"g":50,"s":4,"v":3},{"g":50,"s":5,"v":3},{"g":50,"s":6,"v":6},{"g":50,"s":7,"v":5},{"g":50,"s":8,"v":5},{"g":50,"s":9,"v":5},{"g":50,"s":10,"v":10},{"g":50,"s":11,"v":12},{"g":50,"s":12,"v":3},{"g":50,"s":13,"v":3},{"g":50,"s":14,"v":2},{"g":50,"s":15,"v":3},{"g":50,"s":16,"v":3},{"g":50,"s":17,"v":3},{"g":50,"s":18,"v":6},{"g":50,"s":19,"v":6},{"g":50,"s":20,"v":5},{"g":50,"s":21,"v":3},{"g":50,"s":22,"v":3},{"g":50,"s":23,"v":3},{"g":50,"s":24,"v":6},{"g":50,"s":25,"v":3},{"g":50,"s":26,"v":8},{"g":50,"s":27,"v":8},{"g":50,"s":28,"v":2},{"g":50,"s":29,"v":4},{"g":50,"s":30,"v":3},{"g":50,"s":31,"v":5},{"g":50,"s":32,"v":2},{"g":50,"s":33,"v":4},{"g":50,"s":34,"v":3},{"g":50,"s":35,"v":2},{"g":50,"s":36,"v":1},{"g":50,"s":37,"v":2},{"g":50,"s":38,"v":3},{"g":50,"s":39,"v":3},{"g":50,"s":40,"v":3},{"g":50,"s":41,"v":5},{"g":50,"s":42,"v":10},{"g":50,"s":43,"v":10},{"g":50,"s":44,"v":8},{"g":50,"s":45,"v":8},{"g":50,"s":46,"v":9},{"g":50,"s":47,"v":8},
{"g":51,"s":0,"v":3},{"g":51,"s":1,"v":3},{"g":51,"s":2,"v":3},{"g":51,"s":3,"v":3},{"g":51,"s":4,"v":3},{"g":51,"s":5,"v":3},{"g":51,"s":6,"v":5},{"g":51,"s":7,"v":5},{"g":51,"s":8,"v":5},{"g":51,"s":9,"v":3},{"g":51,"s":10,"v":11},{"g":51,"s":11,"v":10},{"g":51,"s":12,"v":3},{"g":51,"s":13,"v":3},{"g":51,"s":14,"v":3},{"g":51,"s":15,"v":3},{"g":51,"s":16,"v":3},{"g":51,"s":17,"v":3},{"g":51,"s":18,"v":3},{"g":51,"s":19,"v":3},{"g":51,"s":20,"v":3},{"g":51,"s":21,"v":3},{"g":51,"s":22,"v":3},{"g":51,"s":23,"v":3},{"g":51,"s":24,"v":4},{"g":51,"s":25,"v":3},{"g":51,"s":26,"v":8},{"g":51,"s":27,"v":8},{"g":51,"s":28,"v":5},{"g":51,"s":29,"v":3},{"g":51,"s":30,"v":3},{"g":51,"s":31,"v":3},{"g":51,"s":32,"v":3},{"g":51,"s":33,"v":3},{"g":51,"s":34,"v":3},{"g":51,"s":35,"v":3},{"g":51,"s":36,"v":3},{"g":51,"s":37,"v":3},{"g":51,"s":38,"v":3},{"g":51,"s":39,"v":5},{"g":51,"s":40,"v":3},{"g":51,"s":41,"v":3},{"g":51,"s":42,"v":10},{"g":51,"s":43,"v":10},{"g":51,"s":44,"v":9},{"g":51,"s":45,"v":8},{"g":51,"s":46,"v":10},{"g":51,"s":47,"v":8},
{"g":52,"s":0,"v":4},{"g":52,"s":1,"v":3},{"g":52,"s":2,"v":4},{"g":52,"s":3,"v":3},{"g":52,"s":4,"v":3},{"g":52,"s":5,"v":3},{"g":52,"s":6,"v":3},{"g":52,"s":7,"v":5},{"g":52,"s":8,"v":5},{"g":52,"s":9,"v":4},{"g":52,"s":10,"v":11},{"g":52,"s":11,"v":12},{"g":52,"s":12,"v":3},{"g":52,"s":13,"v":3},{"g":52,"s":14,"v":3},{"g":52,"s":15,"v":3},{"g":52,"s":16,"v":4},{"g":52,"s":17,"v":3},{"g":52,"s":18,"v":3},{"g":52,"s":19,"v":3},{"g":52,"s":20,"v":3},{"g":52,"s":21,"v":3},{"g":52,"s":22,"v":3},{"g":52,"s":23,"v":3},{"g":52,"s":24,"v":4},{"g":52,"s":25,"v":3},{"g":52,"s":26,"v":7},{"g":52,"s":27,"v":5},{"g":52,"s":28,"v":5},{"g":52,"s":29,"v":3},{"g":52,"s":30,"v":4},{"g":52,"s":31,"v":3},{"g":52,"s":32,"v":3},{"g":52,"s":33,"v":3},{"g":52,"s":34,"v":3},{"g":52,"s":35,"v":4},{"g":52,"s":36,"v":4},{"g":52,"s":37,"v":3},{"g":52,"s":38,"v":3},{"g":52,"s":39,"v":4},{"g":52,"s":40,"v":3},{"g":52,"s":41,"v":3},{"g":52,"s":42,"v":11},{"g":52,"s":43,"v":10},{"g":52,"s":44,"v":9},{"g":52,"s":45,"v":7},{"g":52,"s":46,"v":7},{"g":52,"s":47,"v":7},
{"g":53,"s":0,"v":3},{"g":53,"s":1,"v":4},{"g":53,"s":2,"v":3},{"g":53,"s":3,"v":3},{"g":53,"s":4,"v":3},{"g":53,"s":5,"v":3},{"g":53,"s":6,"v":3},{"g":53,"s":7,"v":3},{"g":53,"s":8,"v":3},{"g":53,"s":9,"v":3},{"g":53,"s":10,"v":10},{"g":53,"s":11,"v":10},{"g":53,"s":12,"v":3},{"g":53,"s":13,"v":3},{"g":53,"s":14,"v":3},{"g":53,"s":15,"v":3},{"g":53,"s":16,"v":3},{"g":53,"s":17,"v":3},{"g":53,"s":18,"v":3},{"g":53,"s":19,"v":4},{"g":53,"s":20,"v":3},{"g":53,"s":21,"v":3},{"g":53,"s":22,"v":3},{"g":53,"s":23,"v":3},{"g":53,"s":24,"v":4},{"g":53,"s":25,"v":3},{"g":53,"s":26,"v":8},{"g":53,"s":27,"v":9},{"g":53,"s":28,"v":3},{"g":53,"s":29,"v":3},{"g":53,"s":30,"v":3},{"g":53,"s":31,"v":5},{"g":53,"s":32,"v":3},{"g":53,"s":33,"v":3},{"g":53,"s":34,"v":3},{"g":53,"s":35,"v":4},{"g":53,"s":36,"v":4},{"g":53,"s":37,"v":3},{"g":53,"s":38,"v":4},{"g":53,"s":39,"v":4},{"g":53,"s":40,"v":4},{"g":53,"s":41,"v":4},{"g":53,"s":42,"v":10},{"g":53,"s":43,"v":11},{"g":53,"s":44,"v":7},{"g":53,"s":45,"v":7},{"g":53,"s":46,"v":10},{"g":53,"s":47,"v":8},
{"g":54,"s":0,"v":3},{"g":54,"s":1,"v":3},{"g":54,"s":2,"v":3},{"g":54,"s":3,"v":3},{"g":54,"s":4,"v":3},{"g":54,"s":5,"v":3},{"g":54,"s":6,"v":5},{"g":54,"s":7,"v":5},{"g":54,"s":8,"v":5},{"g":54,"s":9,"v":5},{"g":54,"s":10,"v":10},{"g":54,"s":11,"v":10},{"g":54,"s":12,"v":3},{"g":54,"s":13,"v":3},{"g":54,"s":14,"v":3},{"g":54,"s":15,"v":3},{"g":54,"s":16,"v":3},{"g":54,"s":17,"v":3},{"g":54,"s":18,"v":4},{"g":54,"s":19,"v":3},{"g":54,"s":20,"v":5},{"g":54,"s":21,"v":4},{"g":54,"s":22,"v":4},{"g":54,"s":23,"v":4},{"g":54,"s":24,"v":3},{"g":54,"s":25,"v":4},{"g":54,"s":26,"v":8},{"g":54,"s":27,"v":8},{"g":54,"s":28,"v":2},{"g":54,"s":29,"v":3},{"g":54,"s":30,"v":3},{"g":54,"s":31,"v":3},{"g":54,"s":32,"v":3},{"g":54,"s":33,"v":3},{"g":54,"s":34,"v":3},{"g":54,"s":35,"v":3},{"g":54,"s":36,"v":4},{"g":54,"s":37,"v":3},{"g":54,"s":38,"v":3},{"g":54,"s":39,"v":3},{"g":54,"s":40,"v":4},{"g":54,"s":41,"v":3},{"g":54,"s":42,"v":10},{"g":54,"s":43,"v":11},{"g":54,"s":44,"v":7},{"g":54,"s":45,"v":7},{"g":54,"s":46,"v":10},{"g":54,"s":47,"v":9},
{"g":55,"s":0,"v":3},{"g":55,"s":1,"v":3},{"g":55,"s":2,"v":3},{"g":55,"s":3,"v":3},{"g":55,"s":4,"v":3},{"g":55,"s":5,"v":3},{"g":55,"s":6,"v":5},{"g":55,"s":7,"v":5},{"g":55,"s":8,"v":6},{"g":55,"s":9,"v":5},{"g":55,"s":10,"v":8},{"g":55,"s":11,"v":9},{"g":55,"s":12,"v":2},{"g":55,"s":13,"v":2},{"g":55,"s":14,"v":3},{"g":55,"s":15,"v":3},{"g":55,"s":16,"v":3},{"g":55,"s":17,"v":2},{"g":55,"s":18,"v":4},{"g":55,"s":19,"v":3},{"g":55,"s":20,"v":5},{"g":55,"s":21,"v":5},{"g":55,"s":22,"v":5},{"g":55,"s":23,"v":5},{"g":55,"s":24,"v":4},{"g":55,"s":25,"v":5},{"g":55,"s":26,"v":8},{"g":55,"s":27,"v":8},{"g":55,"s":28,"v":3},{"g":55,"s":29,"v":2},{"g":55,"s":30,"v":3},{"g":55,"s":31,"v":3},{"g":55,"s":32,"v":3},{"g":55,"s":33,"v":3},{"g":55,"s":34,"v":4},{"g":55,"s":35,"v":3},{"g":55,"s":36,"v":3},{"g":55,"s":37,"v":4},{"g":55,"s":38,"v":3},{"g":55,"s":39,"v":2},{"g":55,"s":40,"v":3},{"g":55,"s":41,"v":4},{"g":55,"s":42,"v":9},{"g":55,"s":43,"v":8},{"g":55,"s":44,"v":11},{"g":55,"s":45,"v":11},{"g":55,"s":46,"v":9},{"g":55,"s":47,"v":9},
{"g":56,"s":0,"v":3},{"g":56,"s":1,"v":3},{"g":56,"s":2,"v":3},{"g":56,"s":3,"v":3},{"g":56,"s":4,"v":3},{"g":56,"s":5,"v":4},{"g":56,"s":6,"v":5},{"g":56,"s":7,"v":5},{"g":56,"s":8,"v":7},{"g":56,"s":9,"v":8},{"g":56,"s":10,"v":10},{"g":56,"s":11,"v":10},{"g":56,"s":12,"v":3},{"g":56,"s":13,"v":3},{"g":56,"s":14,"v":2},{"g":56,"s":15,"v":3},{"g":56,"s":16,"v":3},{"g":56,"s":17,"v":2},{"g":56,"s":18,"v":4},{"g":56,"s":19,"v":5},{"g":56,"s":20,"v":5},{"g":56,"s":21,"v":5},{"g":56,"s":22,"v":5},{"g":56,"s":23,"v":5},{"g":56,"s":24,"v":3},{"g":56,"s":25,"v":4},{"g":56,"s":26,"v":9},{"g":56,"s":27,"v":8},{"g":56,"s":28,"v":3},{"g":56,"s":29,"v":2},{"g":56,"s":30,"v":3},{"g":56,"s":31,"v":3},{"g":56,"s":32,"v":3},{"g":56,"s":33,"v":2},{"g":56,"s":34,"v":3},{"g":56,"s":35,"v":3},{"g":56,"s":36,"v":5},{"g":56,"s":37,"v":3},{"g":56,"s":38,"v":3},{"g":56,"s":39,"v":5},{"g":56,"s":40,"v":3},{"g":56,"s":41,"v":4},{"g":56,"s":42,"v":10},{"g":56,"s":43,"v":10},{"g":56,"s":44,"v":6},{"g":56,"s":45,"v":6},{"g":56,"s":46,"v":10},{"g":56,"s":47,"v":10},
{"g":57,"s":0,"v":3},{"g":57,"s":1,"v":3},{"g":57,"s":2,"v":3},{"g":57,"s":3,"v":2},{"g":57,"s":4,"v":2},{"g":57,"s":5,"v":2},{"g":57,"s":6,"v":6},{"g":57,"s":7,"v":4},{"g":57,"s":8,"v":6},{"g":57,"s":9,"v":6},{"g":57,"s":10,"v":10},{"g":57,"s":11,"v":10},{"g":57,"s":12,"v":2},{"g":57,"s":13,"v":3},{"g":57,"s":14,"v":3},{"g":57,"s":15,"v":2},{"g":57,"s":16,"v":3},{"g":57,"s":17,"v":3},{"g":57,"s":18,"v":4},{"g":57,"s":19,"v":4},{"g":57,"s":20,"v":5},{"g":57,"s":21,"v":5},{"g":57,"s":22,"v":5},{"g":57,"s":23,"v":5},{"g":57,"s":24,"v":3},{"g":57,"s":25,"v":4},{"g":57,"s":26,"v":8},{"g":57,"s":27,"v":9},{"g":57,"s":28,"v":3},{"g":57,"s":29,"v":1},{"g":57,"s":30,"v":3},{"g":57,"s":31,"v":4},{"g":57,"s":32,"v":3},{"g":57,"s":33,"v":3},{"g":57,"s":34,"v":3},{"g":57,"s":35,"v":3},{"g":57,"s":36,"v":5},{"g":57,"s":37,"v":3},{"g":57,"s":38,"v":3},{"g":57,"s":39,"v":3},{"g":57,"s":40,"v":4},{"g":57,"s":41,"v":3},{"g":57,"s":42,"v":10},{"g":57,"s":43,"v":10},{"g":57,"s":44,"v":10},{"g":57,"s":45,"v":10},{"g":57,"s":46,"v":10},{"g":57,"s":47,"v":10},
{"g":58,"s":0,"v":3},{"g":58,"s":1,"v":2},{"g":58,"s":2,"v":4},{"g":58,"s":3,"v":3},{"g":58,"s":4,"v":3},{"g":58,"s":5,"v":2},{"g":58,"s":6,"v":6},{"g":58,"s":7,"v":7},{"g":58,"s":8,"v":6},{"g":58,"s":9,"v":5},{"g":58,"s":10,"v":10},{"g":58,"s":11,"v":10},{"g":58,"s":12,"v":2},{"g":58,"s":13,"v":3},{"g":58,"s":14,"v":1},{"g":58,"s":15,"v":5},{"g":58,"s":16,"v":2},{"g":58,"s":17,"v":2},{"g":58,"s":18,"v":3},{"g":58,"s":19,"v":3},{"g":58,"s":20,"v":4},{"g":58,"s":21,"v":4},{"g":58,"s":22,"v":4},{"g":58,"s":23,"v":4},{"g":58,"s":24,"v":4},{"g":58,"s":25,"v":4},{"g":58,"s":26,"v":8},{"g":58,"s":27,"v":9},{"g":58,"s":28,"v":3},{"g":58,"s":29,"v":1},{"g":58,"s":30,"v":3},{"g":58,"s":31,"v":3},{"g":58,"s":32,"v":3},{"g":58,"s":33,"v":4},{"g":58,"s":34,"v":5},{"g":58,"s":35,"v":3},{"g":58,"s":36,"v":4},{"g":58,"s":37,"v":3},{"g":58,"s":38,"v":3},{"g":58,"s":39,"v":4},{"g":58,"s":40,"v":3},{"g":58,"s":41,"v":3},{"g":58,"s":42,"v":10},{"g":58,"s":43,"v":10},{"g":58,"s":44,"v":10},{"g":58,"s":45,"v":10},{"g":58,"s":46,"v":11},{"g":58,"s":47,"v":10},
{"g":59,"s":0,"v":3},{"g":59,"s":1,"v":4},{"g":59,"s":2,"v":3},{"g":59,"s":3,"v":3},{"g":59,"s":4,"v":4},{"g":59,"s":5,"v":3},{"g":59,"s":6,"v":6},{"g":59,"s":7,"v":6},{"g":59,"s":8,"v":6},{"g":59,"s":9,"v":6},{"g":59,"s":10,"v":10},{"g":59,"s":11,"v":10},{"g":59,"s":12,"v":3},{"g":59,"s":13,"v":3},{"g":59,"s":14,"v":3},{"g":59,"s":15,"v":3},{"g":59,"s":16,"v":3},{"g":59,"s":17,"v":3},{"g":59,"s":18,"v":3},{"g":59,"s":19,"v":3},{"g":59,"s":20,"v":5},{"g":59,"s":21,"v":5},{"g":59,"s":22,"v":5},{"g":59,"s":23,"v":5},{"g":59,"s":24,"v":4},{"g":59,"s":25,"v":4},{"g":59,"s":26,"v":9},{"g":59,"s":27,"v":9},{"g":59,"s":28,"v":3},{"g":59,"s":29,"v":1},{"g":59,"s":30,"v":3},{"g":59,"s":31,"v":3},{"g":59,"s":32,"v":3},{"g":59,"s":33,"v":3},{"g":59,"s":34,"v":4},{"g":59,"s":35,"v":3},{"g":59,"s":36,"v":3},{"g":59,"s":37,"v":3},{"g":59,"s":38,"v":3},{"g":59,"s":39,"v":3},{"g":59,"s":40,"v":3},{"g":59,"s":41,"v":3},{"g":59,"s":42,"v":10},{"g":59,"s":43,"v":10},{"g":59,"s":44,"v":10},{"g":59,"s":45,"v":10},{"g":59,"s":46,"v":10},{"g":59,"s":47,"v":10},
{"g":60,"s":0,"v":5},{"g":60,"s":1,"v":5},{"g":60,"s":2,"v":4},{"g":60,"s":3,"v":2},{"g":60,"s":4,"v":4},{"g":60,"s":5,"v":1},{"g":60,"s":6,"v":6},{"g":60,"s":7,"v":5},{"g":60,"s":8,"v":5},{"g":60,"s":9,"v":5},{"g":60,"s":10,"v":8},{"g":60,"s":11,"v":8},{"g":60,"s":12,"v":3},{"g":60,"s":13,"v":3},{"g":60,"s":14,"v":4},{"g":60,"s":15,"v":5},{"g":60,"s":16,"v":5},{"g":60,"s":17,"v":5},{"g":60,"s":18,"v":4},{"g":60,"s":19,"v":1},{"g":60,"s":20,"v":4},{"g":60,"s":21,"v":2},{"g":60,"s":22,"v":7},{"g":60,"s":23,"v":5},{"g":60,"s":24,"v":6},{"g":60,"s":25,"v":6},{"g":60,"s":26,"v":9},{"g":60,"s":27,"v":7},{"g":60,"s":28,"v":2},{"g":60,"s":29,"v":1},{"g":60,"s":30,"v":3},{"g":60,"s":31,"v":2},{"g":60,"s":32,"v":5},{"g":60,"s":33,"v":3},{"g":60,"s":34,"v":2},{"g":60,"s":35,"v":3},{"g":60,"s":36,"v":5},{"g":60,"s":37,"v":1},{"g":60,"s":38,"v":3},{"g":60,"s":39,"v":5},{"g":60,"s":40,"v":5},{"g":60,"s":41,"v":6},{"g":60,"s":42,"v":10},{"g":60,"s":43,"v":11},{"g":60,"s":44,"v":8},{"g":60,"s":45,"v":7},{"g":60,"s":46,"v":10},{"g":60,"s":47,"v":9},
{"g":61,"s":0,"v":4},{"g":61,"s":1,"v":4},{"g":61,"s":2,"v":3},{"g":61,"s":3,"v":2},{"g":61,"s":4,"v":2},{"g":61,"s":5,"v":2},{"g":61,"s":6,"v":7},{"g":61,"s":7,"v":5},{"g":61,"s":8,"v":5},{"g":61,"s":9,"v":5},{"g":61,"s":10,"v":10},{"g":61,"s":11,"v":9},{"g":61,"s":12,"v":1},{"g":61,"s":13,"v":2},{"g":61,"s":14,"v":5},{"g":61,"s":15,"v":5},{"g":61,"s":16,"v":4},{"g":61,"s":17,"v":4},{"g":61,"s":18,"v":4},{"g":61,"s":19,"v":4},{"g":61,"s":20,"v":3},{"g":61,"s":21,"v":3},{"g":61,"s":22,"v":4},{"g":61,"s":23,"v":5},{"g":61,"s":24,"v":4},{"g":61,"s":25,"v":4},{"g":61,"s":26,"v":9},{"g":61,"s":27,"v":7},{"g":61,"s":28,"v":3},{"g":61,"s":29,"v":3},{"g":61,"s":30,"v":3},{"g":61,"s":31,"v":3},{"g":61,"s":32,"v":4},{"g":61,"s":33,"v":5},{"g":61,"s":34,"v":2},{"g":61,"s":35,"v":2},{"g":61,"s":36,"v":2},{"g":61,"s":37,"v":2},{"g":61,"s":38,"v":5},{"g":61,"s":39,"v":3},{"g":61,"s":40,"v":4},{"g":61,"s":41,"v":4},{"g":61,"s":42,"v":10},{"g":61,"s":43,"v":10},{"g":61,"s":44,"v":11},{"g":61,"s":45,"v":11},{"g":61,"s":46,"v":8},{"g":61,"s":47,"v":8}
]},
"encoding":{"x":{"field":"sample","type":"nominal","scale":{"domain":["ABUH315100A","ABUH315100B","ABUH315101A","ABUH315101B","ABUH28081A","ABUH28081B","ABUH28092A","ABUH28092B","ABUH28093A","ABUH28093B","ABUH28099A","ABUH28099B","ABUH475197A","ABUH475197B","ABUH475239A","ABUH475239B","ABUH475361A","ABUH475361B","ABUH81366A","ABUH81366B","ABUH81389A","ABUH81389B","ABUH81452A","ABUH81452B","ABUH66241A","ABUH66241B","ABUH66253A","ABUH66253B","ABUH66268A","ABUH66268B","ABUH66271A","ABUH66271B","ABUH66276A","ABUH66276B","ABUH41096A","ABUH41096B","ABUH410103A","ABUH410103B","ABUH410128A","ABUH410128B","ABUH588656A","ABUH588656B","ABUH588663A","ABUH588663B","ABUH34813A","ABUH34813B","ABUH34827A","ABUH34827B"],"paddingInner":0,"paddingOuter":0},"axis":{"orient":"bottom","offset":-92,"title":null,"ticks":false,"domain":false,"labelAngle":270,"labelFontSize":8,"labelColor":"#333","labelPadding":2,"labelAlign":"right","labelBaseline":"middle","labelOverlap":false}},
"y":{"field":"name","type":"nominal","scale":{"domain":["t0","t1","t2","ACICU_02399_acetyltransferase","ACICU_02400_sorbosone dehydrogenase","ACICU_02401_membrane protein","ACICU_02402_racemase","ACICU_02403_hypothetical protein","ACICU_02404_mammalian cell entry protein","ACICU_02405_paraquat-inducible protein A","ACICU_02406_transporter","ACICU_02407_aspartate aminotransferase","ACICU_02408_membrane protein","ACICU_02409_TetR family transcriptional regulator","ACICU_02410_hypothetical protein","ACICU_02412_glycine/betaine ABC transporter","ACICU_02413_hypothetical protein","ACICU_02414_protein CsuE","ACICU_02415_protein CsuD","ACICU_02416_protein CsuC","ACICU_02417_protein CsuB","ACICU_02418_protein CsuA","ACICU_02420_protein CsuA/B","ACICU_02421_TetR family transcriptional regulator","ACICU_02422_hypothetical protein","ACICU_02423_GntR family transcriptional regulator","ACICU_02424_ATPase AAA","ACICU_02425_sodium:glutamate symporter","ACICU_02426_alpha/beta hydrolase","ACICU_02427_AraC family transcriptional regulator","ACICU_02428_threonine transporter","ACICU_02429_membrane protein","ACICU_02430_blue light sensor protein","ACICU_02431_DNA-binding protein","ACICU_02432_glycosyl transferase","ACICU_02433_methyltransferase","ACICU_02434_LmbE protein","ACICU_02435_acyl-CoA dehydrogenase","ACICU_02436_hypothetical protein","s1","ACICU_01823_adeC","ACICU_01824_adeB","ACICU_01825_adeA","ACICU_01826_adeR","ACICU_01827_adeS","s2","ACICU_00024_membrane protein","ACICU_00741_hypothetical protein","ACICU_00900_polysaccharide deacetylase","ACICU_00901_N-glycosyltransferase","ACICU_00902_poly-beta-1,6-N-acetyl-D-glucosamine biosynthesis","ACICU_01072_lipid A phosphoethanolamine transferase","ACICU_01518_hypothetical protein","ACICU_01552_hypothetical protein","ACICU_01553_hypothetical protein","ACICU_02865_hypothetical protein","ACICU_02866_glycosyl transferase family 2","ACICU_02867_polysaccharide biosynthesis protein GtrA","ACICU_02868_dolichyl-phosphate-mannose-protein mannosyltransferase","ACICU_02895_peptide synthetase","ACICU_02907_diacylglycerol kinase","ACICU_03001_hypothetical protein","ACICU_03002_pmrB","ACICU_03003_pmrA","ACICU_03004_pmrC","ACICU_03041_microcin B17 transporter","ACICU_03484_MFS transporter","b1","b2","b3","b4","b5","b6","b7","b8","adeRS","adeA","pmrAB"],"paddingInner":0,"paddingOuter":0},"axis":{"orient":"right","title":null,"ticks":false,"domain":false,"labelFontSize":7,"labelColor":"#222","labelPadding":6,"labelLimit":300,"labelOverlap":false,"labelExpr":"indexof(datum.label,'ACICU')==0?datum.label:''"}}},
"layer":[
{"data":{"name":"cells"},"transform":[{"lookup":"g","from":{"data":{"name":"genes"},"key":"g","fields":["name"]}},{"lookup":"s","from":{"data":{"name":"samples"},"key":"s","fields":["sample"]}}],"mark":{"type":"rect","strokeWidth":0.4},"encoding":{"color":{"field":"v","type":"quantitative","legend":null,"scale":{"domain":[0,1,2,3,4,5,6,7,8,9,10,11,12],"range":["#f8fcc8","#e1f3b2","#b8e3b5","#86d1ba","#6ac6bd","#52bdc2","#3db0c3","#2ca0c1","#1f8abd","#2067ae","#24479e","#253494","#0b1f63"]}},"stroke":{"field":"v","type":"quantitative","legend":null,"scale":{"domain":[0,1,2,3,4,5,6,7,8,9,10,11,12],"range":["#f8fcc8","#e1f3b2","#b8e3b5","#86d1ba","#6ac6bd","#52bdc2","#3db0c3","#2ca0c1","#1f8abd","#2067ae","#24479e","#253494","#0b1f63"]}}}},
{"data":{"name":"missing"},"transform":[{"lookup":"g","from":{"data":{"name":"genes"},"key":"g","fields":["name"]}},{"lookup":"s","from":{"data":{"name":"samples"},"key":"s","fields":["sample"]}}],"mark":{"type":"rect","fill":"#b0b0b0","stroke":"#b0b0b0","strokeWidth":0.4}},
{"data":{"values":[{"sample":"ABUH315100A","end":"ABUH81452B","name":"t1"}]},"mark":{"type":"rule","stroke":"#f6c92e","strokeWidth":2,"xOffset":-3,"x2Offset":3},"encoding":{"x2":{"field":"end"}}},
{"data":{"values":[{"sample":"ABUH66241A","end":"ABUH66276B","name":"t1"}]},"mark":{"type":"rule","stroke":"#1414d2","strokeWidth":2,"xOffset":-4,"x2Offset":3},"encoding":{"x2":{"field":"end"}}},
{"data":{"values":[{"sample":"ABUH41096A","end":"ABUH588663B","name":"t1"}]},"mark":{"type":"rule","stroke":"#e8141e","strokeWidth":2,"xOffset":-4,"x2Offset":3},"encoding":{"x2":{"field":"end"}}},
{"data":{"values":[{"sample":"ABUH34813A","end":"ABUH34827B","name":"t1"}]},"mark":{"type":"rule","stroke":"#000000","strokeWidth":2,"xOffset":-4,"x2Offset":5},"encoding":{"x2":{"field":"end"}}},
{"data":{"values":[{"sample":"ABUH28081A","name":"adeA"},{"sample":"ABUH28092A","name":"adeA"},{"sample":"ABUH28093A","name":"adeA"},{"sample":"ABUH28099A","name":"adeA"},{"sample":"ABUH475197A","name":"adeA"},{"sample":"ABUH475239A","name":"adeA"},{"sample":"ABUH475361A","name":"adeA"},{"sample":"ABUH81389A","name":"adeA"},{"sample":"ABUH81452A","name":"adeA"}]},"mark":{"type":"point","shape":"M0,0L0,-1M0,0L.95,-.31M0,0L.59,.81M0,0L-.59,.81M0,0L-.95,-.31","size":64,"filled":false,"stroke":"#ee1c25","strokeWidth":1.8,"opacity":1,"xOffset":5.24,"yOffset":-3}},
{"data":{"values":[{"sample":"ABUH81366A","name":"adeRS"},{"sample":"ABUH81389A","name":"adeRS"},{"sample":"ABUH81452A","name":"adeRS"},{"sample":"ABUH66253A","name":"adeRS"},{"sample":"ABUH66276A","name":"adeRS"},{"sample":"ABUH588656A","name":"adeRS"},{"sample":"ABUH588663A","name":"adeRS"}]},"mark":{"type":"point","shape":"M0,0L0,-1M0,0L.95,-.31M0,0L.59,.81M0,0L-.59,.81M0,0L-.95,-.31","size":64,"filled":false,"stroke":"#000000","strokeWidth":1.8,"opacity":1,"xOffset":5.24,"yOffset":-5}},
{"data":{"values":[{"sample":"ABUH28081A","name":"pmrAB"},{"sample":"ABUH28092A","name":"pmrAB"},{"sample":"ABUH28093A","name":"pmrAB"},{"sample":"ABUH28099A","name":"pmrAB"},{"sample":"ABUH81389A","name":"pmrAB"},{"sample":"ABUH81452A","name":"pmrAB"},{"sample":"ABUH66253A","name":"pmrAB"},{"sample":"ABUH588663A","name":"pmrAB"},{"sample":"ABUH34813A","name":"pmrAB"},{"sample":"ABUH34827A","name":"pmrAB"}]},"mark":{"type":"point","shape":"M0,0L0,-1M0,0L.95,-.31M0,0L.59,.81M0,0L-.59,.81M0,0L-.95,-.31","size":64,"filled":false,"stroke":"#1f6fe0","strokeWidth":1.8,"opacity":1,"xOffset":5.24,"yOffset":2.4}},
{"data":{"values":[{"sample":"ABUH34827B","name":"adeRS","label":"adeRS"}]},"mark":{"type":"text","fontSize":11,"fontStyle":"italic","align":"left","baseline":"middle","color":"#222","xOffset":9.5,"yOffset":-4},"encoding":{"text":{"field":"label"}}},
{"data":{"values":[{"sample":"ABUH34827B","name":"adeA","label":"adeA"}]},"mark":{"type":"text","fontSize":11,"fontStyle":"italic","align":"left","baseline":"middle","color":"#222","xOffset":9.5,"yOffset":-1},"encoding":{"text":{"field":"label"}}},
{"data":{"values":[{"sample":"ABUH34827B","name":"pmrAB","label":"pmrAB"}]},"mark":{"type":"text","fontSize":11,"fontStyle":"italic","align":"left","baseline":"middle","color":"#222","xOffset":9.5,"yOffset":2.4},"encoding":{"text":{"field":"label"}}},
{"data":{"values":[{"sample":"ABUH315101A","name":"t0","label":"Clade"},{"sample":"ABUH475197A","name":"t0","label":"A"},{"sample":"ABUH66268B","name":"t0","label":"B"},{"sample":"ABUH410128A","name":"t0","label":"C"},{"sample":"ABUH34813B","name":"t0","label":"D"}]},"mark":{"type":"text","fontSize":14.5,"align":"center","baseline":"middle","color":"#222","xOffset":-2,"yOffset":-3.6},"encoding":{"text":{"field":"label"}}},
{"data":{"values":[{"sample":"ABUH315100A","name":"ACICU_02401_membrane protein","label":"A."},{"sample":"ABUH315100A","name":"ACICU_01823_adeC","label":"B."},{"sample":"ABUH315100A","name":"ACICU_00900_polysaccharide deacetylase","label":"C."}]},"mark":{"type":"text","fontSize":26,"align":"left","baseline":"middle","color":"#111","xOffset":-49.2,"yOffset":-3},"encoding":{"text":{"field":"label"}}},
{"data":{"values":[{"sample":"ABUH315100A","name":"ACICU_02423_GntR family transcriptional regulator","label":"csu"}]},"mark":{"type":"text","fontSize":12.5,"fontStyle":"italic","angle":270,"align":"left","baseline":"middle","color":"#222","xOffset":-12.5,"yOffset":-3},"encoding":{"text":{"field":"label"}}},
{"data":{"values":[{"sample":"ABUH315100A","name":"ACICU_00024_membrane protein","label":"adeRS"}]},"mark":{"type":"text","fontSize":11.5,"fontStyle":"italic","angle":270,"align":"left","baseline":"middle","color":"#222","xOffset":-12.5,"yOffset":-2},"encoding":{"text":{"field":"label"}}},
{"data":{"values":[{"sample":"ABUH315100A","name":"ACICU_01825_adeA","label":"region"}]},"mark":{"type":"text","fontSize":11.5,"angle":270,"align":"left","baseline":"middle","color":"#222","xOffset":-12.5,"yOffset":-5},"encoding":{"text":{"field":"label"}}},
{"data":{"values":[{"sample":"ABUH315100A","name":"ACICU_02420_protein CsuA/B","label":"region"},{"sample":"ABUH315100A","name":"ACICU_02907_diacylglycerol kinase","label":"Pmr regulon"}]},"mark":{"type":"text","fontSize":12.5,"angle":270,"align":"left","baseline":"middle","color":"#222","xOffset":-12.5,"yOffset":2},"encoding":{"text":{"field":"label"}}}
]}
